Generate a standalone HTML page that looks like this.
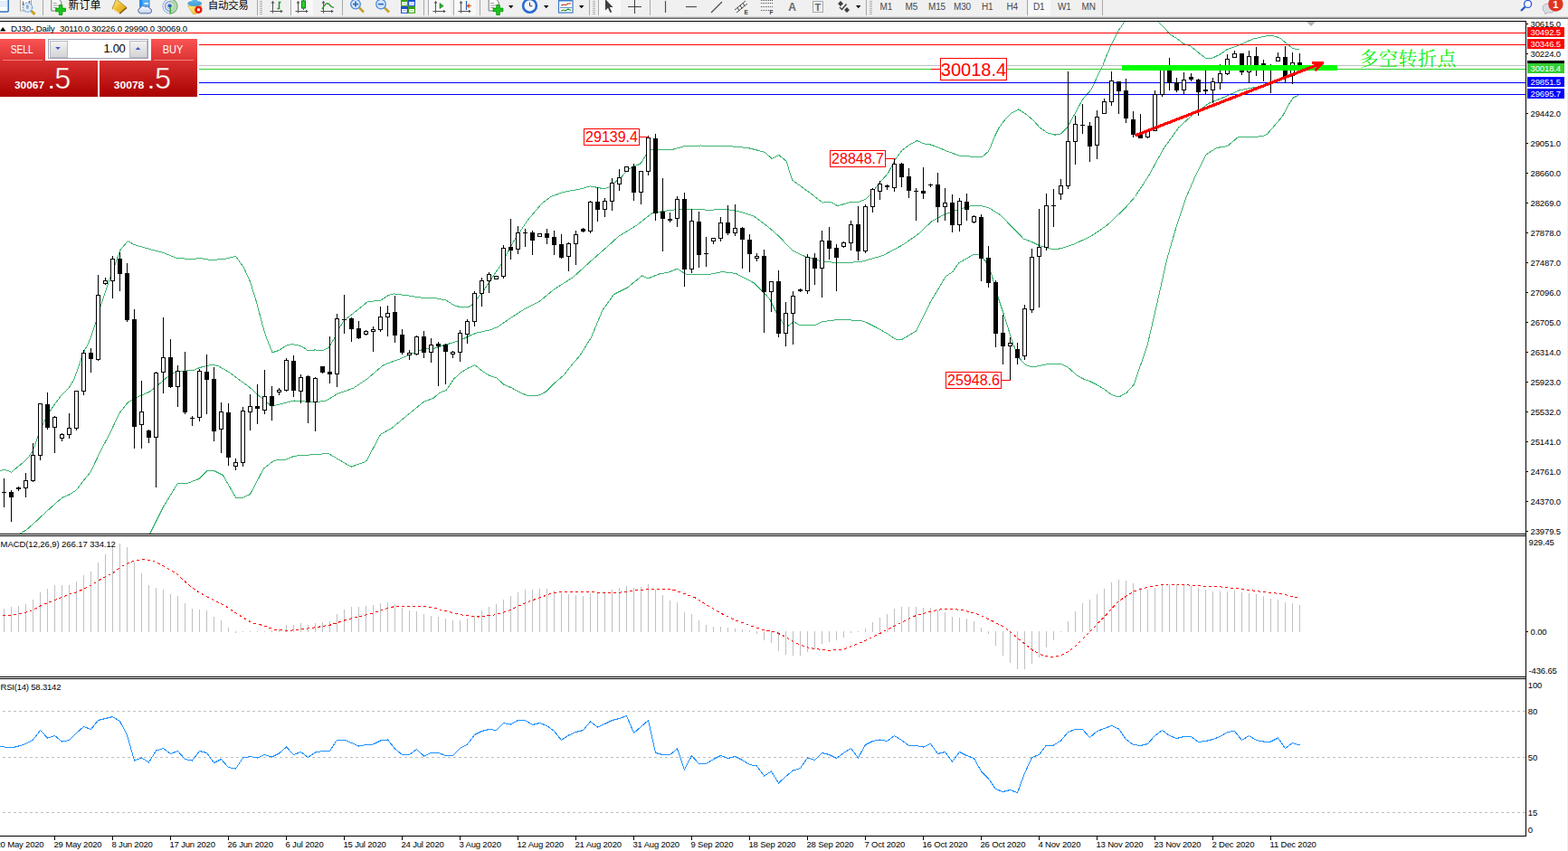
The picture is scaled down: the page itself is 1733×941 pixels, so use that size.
<!DOCTYPE html>
<html><head><meta charset="utf-8"><title>DJ30 Daily</title>
<style>html,body{margin:0;padding:0;background:#fff;overflow:hidden}svg{display:block}text{font-family:"Liberation Sans",sans-serif}</style>
</head><body>
<svg width="1733" height="941" viewBox="0 0 1733 941" font-family="Liberation Sans, sans-serif">
<defs>
<clipPath id="cmain"><rect x="0" y="24" width="1686" height="566"/></clipPath>
<linearGradient id="gbtn" x1="0" y1="0" x2="0" y2="1"><stop offset="0" stop-color="#fa5454"/><stop offset="1" stop-color="#dc3232"/></linearGradient>
<linearGradient id="gprice" gradientUnits="userSpaceOnUse" x1="0" y1="67" x2="0" y2="107"><stop offset="0" stop-color="#d83030"/><stop offset="1" stop-color="#aa0000"/></linearGradient>
<linearGradient id="gspin" x1="0" y1="0" x2="0" y2="1"><stop offset="0" stop-color="#f4f4f4"/><stop offset="1" stop-color="#d4d4d8"/></linearGradient>
<linearGradient id="ggold" x1="0" y1="0" x2="1" y2="1"><stop offset="0" stop-color="#fdf0a0"/><stop offset="0.5" stop-color="#eec030"/><stop offset="1" stop-color="#d09818"/></linearGradient>
<linearGradient id="gcloud" x1="0" y1="0" x2="0" y2="1"><stop offset="0" stop-color="#ffffff"/><stop offset="1" stop-color="#c4d0e8"/></linearGradient>
<linearGradient id="gyel" x1="0" y1="0" x2="1" y2="1"><stop offset="0" stop-color="#fff490"/><stop offset="1" stop-color="#e8b420"/></linearGradient>
</defs>
<rect x="0" y="0" width="1733" height="941" fill="#fff"/>
<g clip-path="url(#cmain)" shape-rendering="crispEdges">
<polyline points="0.5,520.5 5.5,519.2 12.5,522.2 19.6,516.2 26.0,511.1 31.1,506.0 35.6,499.6 38.8,492.0 42.6,480.5 47.7,468.5 55.3,454.5 60.5,446.8 66.8,438.5 77.0,427.7 82.1,418.8 85.3,409.8 89.8,397.1 93.6,386.9 97.4,380.5 100.5,372.5 104.5,360.5 108.5,348.5 111.5,337.5 120.5,310.5 133.0,276.5 141.2,266.5 148.0,270.5 165.5,275.5 180.5,279.5 195.5,285.5 213.0,286.5 220.5,285.5 233.0,287.5 248.0,286.5 260.5,283.5 269.2,295.5 276.5,311.5 283.0,332.5 290.5,360.5 294.2,373.0 301.1,389.8 308.7,387.3 316.4,382.2 322.7,380.7 329.1,381.5 334.2,383.5 340.6,387.9 348.3,386.9 355.9,387.9 363.5,384.1 369.9,373.3 376.3,360.5 380.5,354.0 390.5,346.5 406.5,333.5 420.5,332.5 429.2,326.5 433.5,325.1 435.6,325.0 449.6,326.6 468.8,329.7 479.0,329.2 493.0,332.0 501.9,337.7 509.6,339.9 517.2,339.9 522.3,336.4 527.4,330.1 532.5,324.3 541.0,311.5 553.5,293.0 568.5,265.5 583.5,243.0 598.5,225.5 600.5,223.7 608.9,217.5 622.2,212.5 642.3,208.8 652.4,205.8 667.5,208.8 674.1,206.5 687.5,194.9 694.2,187.5 708.5,180.5 714.3,170.5 719.3,165.5 742.7,165.5 756.1,161.8 774.5,161.0 808.0,161.8 826.5,163.5 844.8,168.1 853.2,175.5 860.7,171.5 869.1,178.2 875.5,199.0 882.3,204.0 897.4,214.9 909.1,224.1 917.5,223.2 925.8,227.7 940.9,223.2 949.2,223.2 957.5,219.9 965.7,210.5 973.0,201.1 981.3,191.8 989.5,176.2 996.9,166.3 1005.2,160.1 1013.5,155.5 1020.7,158.8 1029.1,160.1 1037.4,163.2 1045.7,166.9 1060.2,172.0 1068.5,172.0 1075.8,173.9 1085.1,173.9 1092.5,167.4 1095.5,160.5 1099.7,150.2 1103.8,141.9 1109.1,134.3 1117.5,125.3 1125.8,120.9 1135.5,127.4 1142.4,133.5 1149.3,141.2 1157.5,146.8 1165.9,149.1 1172.9,147.9 1179.8,140.5 1186.7,128.1 1196.4,110.1 1206.1,99.0 1212.0,86.3 1217.8,74.7 1223.5,60.3 1229.4,47.0 1235.1,35.5 1242.5,24.5 1250.5,14.5 1262.5,8.5 1272.5,14.5 1280.7,24.5 1288.2,32.0 1292.8,37.8 1299.7,41.9 1307.8,48.2 1315.9,51.1 1325.1,58.6 1333.2,64.9 1340.1,64.1 1348.2,60.3 1356.3,54.5 1367.8,50.7 1375.9,47.0 1385.1,43.0 1394.4,41.0 1401.3,39.5 1409.3,40.1 1415.1,42.4 1422.0,48.2 1429.0,53.7 1436.5,55.1" fill="none" stroke="#3cb371" stroke-width="1" />
<polyline points="15.5,596.5 21.5,590.2 28.6,586.4 37.5,578.7 49.0,567.9 63.0,555.1 69.4,550.0 77.0,546.8 84.7,541.7 92.3,531.5 100.0,522.0 108.9,503.5 115.3,490.7 120.4,481.3 131.9,457.0 140.8,445.5 145.9,442.4 151.6,439.2 165.0,433.4 170.1,429.5 184.2,417.5 194.4,411.1 204.5,410.1 214.8,409.2 220.5,406.5 233.0,403.5 240.5,404.2 253.0,411.5 275.5,428.0 290.5,441.5 300.5,449.2 325.5,443.0 348.0,445.0 360.5,443.0 373.0,435.5 390.5,429.2 405.5,419.2 423.0,404.2 430.5,401.1 443.3,396.4 456.0,390.7 467.5,386.2 479.0,385.5 490.5,381.7 501.9,378.5 512.1,374.7 519.8,370.9 527.4,367.9 541.5,364.9 550.4,361.3 563.2,352.4 581.0,340.9 596.3,333.3 611.6,320.5 633.5,306.5 651.0,290.5 671.0,273.0 683.5,261.5 703.5,249.2 721.0,235.5 733.5,233.5 748.5,231.5 766.0,231.5 783.5,232.2 803.5,231.5 818.5,234.2 833.5,239.2 848.5,250.5 860.5,260.9 875.5,276.8 890.5,284.0 909.1,289.0 925.8,290.7 950.9,289.7 976.0,282.5 997.5,270.9 1014.5,259.2 1029.5,245.0 1042.9,237.5 1059.5,231.5 1073.0,227.7 1084.5,227.7 1093.1,229.9 1106.5,238.3 1118.2,250.8 1131.5,264.2 1140.5,267.5 1149.2,271.8 1163.2,275.5 1172.1,274.9 1187.5,269.8 1205.3,261.5 1223.2,249.4 1243.5,230.2 1254.5,217.5 1269.5,194.4 1286.2,164.2 1302.9,140.8 1319.5,125.8 1336.5,114.0 1353.1,107.4 1369.9,99.8 1386.5,96.5 1400.5,94.5 1417.5,86.5 1429.0,81.0 1436.5,80.0" fill="none" stroke="#3cb371" stroke-width="1" />
<polyline points="160.5,600.5 165.5,590.5 180.5,560.5 196.5,534.2 205.5,535.0 220.5,529.2 229.2,520.5 236.5,520.5 246.5,525.5 260.5,550.0 269.2,550.0 276.5,546.5 291.5,518.0 303.0,509.2 316.5,508.0 325.5,504.2 363.0,501.5 388.0,516.2 404.5,510.5 420.5,480.5 433.5,473.0 448.5,460.5 468.5,444.2 479.0,440.4 485.3,434.7 493.0,431.5 496.8,426.4 501.9,418.7 509.6,411.7 517.2,407.2 524.9,403.7 532.5,409.8 540.2,414.9 549.1,418.1 556.8,425.1 565.7,428.9 574.6,434.0 582.3,437.2 589.9,437.8 596.3,436.8 604.0,432.7 614.2,422.5 623.1,414.9 632.0,403.4 641.0,393.2 653.5,373.0 666.0,343.0 678.5,325.5 693.5,318.0 709.5,305.0 716.0,308.0 728.5,303.0 738.5,301.2 748.5,297.2 758.5,303.5 783.5,303.5 798.5,300.5 813.5,302.5 833.5,313.0 846.0,325.5 850.5,330.5 858.0,345.5 866.5,359.1 870.5,360.8 877.3,355.8 884.8,359.9 900.7,359.9 908.2,355.8 924.1,353.8 937.5,353.8 950.9,354.5 957.5,356.5 967.5,361.5 981.0,369.1 989.5,375.0 996.1,375.8 1004.5,370.8 1012.8,365.8 1017.8,355.8 1027.9,334.8 1037.9,318.1 1045.5,305.5 1053.0,300.5 1059.5,291.0 1076.5,281.0 1083.1,281.0 1089.5,289.3 1095.5,302.2 1103.2,329.0 1111.5,354.1 1118.2,375.8 1124.9,394.2 1133.3,403.5 1140.5,406.0 1150.5,404.2 1160.9,402.1 1169.2,402.1 1174.4,403.1 1180.5,406.3 1190.0,414.8 1197.2,418.9 1204.5,421.5 1212.8,425.7 1221.1,430.9 1228.4,436.5 1232.5,437.8 1236.7,439.0 1245.0,434.5 1253.3,425.2 1258.5,409.5 1263.7,395.0 1268.4,380.5 1279.3,333.5 1289.5,287.5 1300.5,249.4 1311.3,217.5 1321.3,194.4 1333.1,170.9 1344.8,163.4 1356.5,161.7 1368.2,151.7 1395.0,150.9 1400.5,148.4 1417.5,128.5 1423.2,117.5 1429.0,108.2 1435.3,105.3" fill="none" stroke="#3cb371" stroke-width="1" />
<rect x="0" y="36" width="1687" height="1" fill="#ff0000" />
<rect x="0" y="49" width="1687" height="1" fill="#ff0000" />
<rect x="0" y="72" width="1687" height="1" fill="#c0c0c0" />
<rect x="0" y="76" width="1687" height="1" fill="#32cd32" />
<rect x="0" y="91" width="1687" height="1" fill="#0000ff" />
<rect x="0" y="104" width="1687" height="1" fill="#0000ff" />
<rect x="4" y="529" width="1" height="32" fill="#000" />
<rect x="2" y="544" width="5" height="1" fill="#000" />
<rect x="12" y="542" width="1" height="35" fill="#000" />
<rect x="10" y="544" width="5" height="6" fill="#000" />
<rect x="20" y="538" width="1" height="5" fill="#000" />
<rect x="18" y="539" width="5" height="2" fill="#000" />
<rect x="28" y="523" width="1" height="27" fill="#000" />
<rect x="26" y="531" width="5" height="9" fill="#000" />
<rect x="27" y="532" width="3" height="7" fill="#fff" />
<rect x="36" y="490" width="1" height="43" fill="#000" />
<rect x="34" y="503" width="5" height="29" fill="#000" />
<rect x="35" y="504" width="3" height="27" fill="#fff" />
<rect x="44" y="446" width="1" height="63" fill="#000" />
<rect x="42" y="446" width="5" height="58" fill="#000" />
<rect x="43" y="447" width="3" height="56" fill="#fff" />
<rect x="52" y="434" width="1" height="41" fill="#000" />
<rect x="50" y="447" width="5" height="26" fill="#000" />
<rect x="60" y="460" width="1" height="41" fill="#000" />
<rect x="58" y="461" width="5" height="12" fill="#000" />
<rect x="59" y="462" width="3" height="10" fill="#fff" />
<rect x="68" y="479" width="1" height="9" fill="#000" />
<rect x="66" y="480" width="5" height="5" fill="#000" />
<rect x="67" y="481" width="3" height="3" fill="#fff" />
<rect x="76" y="457" width="1" height="28" fill="#000" />
<rect x="74" y="473" width="5" height="8" fill="#000" />
<rect x="75" y="474" width="3" height="6" fill="#fff" />
<rect x="84" y="432" width="1" height="44" fill="#000" />
<rect x="82" y="432" width="5" height="42" fill="#000" />
<rect x="83" y="433" width="3" height="40" fill="#fff" />
<rect x="92" y="387" width="1" height="50" fill="#000" />
<rect x="90" y="390" width="5" height="43" fill="#000" />
<rect x="91" y="391" width="3" height="41" fill="#fff" />
<rect x="100" y="385" width="1" height="27" fill="#000" />
<rect x="98" y="390" width="5" height="7" fill="#000" />
<rect x="108" y="304" width="1" height="95" fill="#000" />
<rect x="106" y="326" width="5" height="72" fill="#000" />
<rect x="107" y="327" width="3" height="70" fill="#fff" />
<rect x="116" y="307" width="1" height="8" fill="#000" />
<rect x="114" y="310" width="5" height="4" fill="#000" />
<rect x="115" y="311" width="3" height="2" fill="#fff" />
<rect x="124" y="283" width="1" height="47" fill="#000" />
<rect x="122" y="286" width="5" height="25" fill="#000" />
<rect x="123" y="287" width="3" height="23" fill="#fff" />
<rect x="132" y="279" width="1" height="43" fill="#000" />
<rect x="130" y="286" width="5" height="17" fill="#000" />
<rect x="140" y="291" width="1" height="65" fill="#000" />
<rect x="138" y="302" width="5" height="52" fill="#000" />
<rect x="148" y="342" width="1" height="154" fill="#000" />
<rect x="146" y="353" width="5" height="119" fill="#000" />
<rect x="156" y="421" width="1" height="75" fill="#000" />
<rect x="154" y="455" width="5" height="15" fill="#000" />
<rect x="155" y="456" width="3" height="13" fill="#fff" />
<rect x="164" y="475" width="1" height="15" fill="#000" />
<rect x="162" y="476" width="5" height="8" fill="#000" />
<rect x="172" y="411" width="1" height="128" fill="#000" />
<rect x="170" y="412" width="5" height="72" fill="#000" />
<rect x="171" y="413" width="3" height="70" fill="#fff" />
<rect x="180" y="351" width="1" height="84" fill="#000" />
<rect x="178" y="395" width="5" height="17" fill="#000" />
<rect x="179" y="396" width="3" height="15" fill="#fff" />
<rect x="188" y="375" width="1" height="54" fill="#000" />
<rect x="186" y="395" width="5" height="33" fill="#000" />
<rect x="196" y="404" width="1" height="46" fill="#000" />
<rect x="194" y="410" width="5" height="18" fill="#000" />
<rect x="195" y="411" width="3" height="16" fill="#fff" />
<rect x="204" y="389" width="1" height="69" fill="#000" />
<rect x="202" y="410" width="5" height="46" fill="#000" />
<rect x="212" y="460" width="1" height="11" fill="#000" />
<rect x="210" y="462" width="5" height="1" fill="#000" />
<rect x="220" y="408" width="1" height="58" fill="#000" />
<rect x="218" y="410" width="5" height="52" fill="#000" />
<rect x="219" y="411" width="3" height="50" fill="#fff" />
<rect x="228" y="392" width="1" height="66" fill="#000" />
<rect x="226" y="411" width="5" height="9" fill="#000" />
<rect x="236" y="406" width="1" height="82" fill="#000" />
<rect x="234" y="419" width="5" height="58" fill="#000" />
<rect x="244" y="445" width="1" height="56" fill="#000" />
<rect x="242" y="455" width="5" height="20" fill="#000" />
<rect x="243" y="456" width="3" height="18" fill="#fff" />
<rect x="252" y="446" width="1" height="69" fill="#000" />
<rect x="250" y="456" width="5" height="50" fill="#000" />
<rect x="260" y="507" width="1" height="13" fill="#000" />
<rect x="258" y="511" width="5" height="5" fill="#000" />
<rect x="259" y="512" width="3" height="3" fill="#fff" />
<rect x="268" y="450" width="1" height="66" fill="#000" />
<rect x="266" y="454" width="5" height="58" fill="#000" />
<rect x="267" y="455" width="3" height="56" fill="#fff" />
<rect x="276" y="436" width="1" height="40" fill="#000" />
<rect x="274" y="449" width="5" height="7" fill="#000" />
<rect x="275" y="450" width="3" height="5" fill="#fff" />
<rect x="284" y="425" width="1" height="44" fill="#000" />
<rect x="282" y="449" width="5" height="3" fill="#000" />
<rect x="292" y="409" width="1" height="49" fill="#000" />
<rect x="290" y="438" width="5" height="16" fill="#000" />
<rect x="291" y="439" width="3" height="14" fill="#fff" />
<rect x="300" y="427" width="1" height="38" fill="#000" />
<rect x="298" y="438" width="5" height="11" fill="#000" />
<rect x="308" y="429" width="1" height="8" fill="#000" />
<rect x="306" y="431" width="5" height="3" fill="#000" />
<rect x="307" y="432" width="3" height="1" fill="#fff" />
<rect x="316" y="396" width="1" height="37" fill="#000" />
<rect x="314" y="398" width="5" height="34" fill="#000" />
<rect x="315" y="399" width="3" height="32" fill="#fff" />
<rect x="324" y="393" width="1" height="46" fill="#000" />
<rect x="322" y="399" width="5" height="33" fill="#000" />
<rect x="332" y="414" width="1" height="32" fill="#000" />
<rect x="330" y="417" width="5" height="16" fill="#000" />
<rect x="331" y="418" width="3" height="14" fill="#fff" />
<rect x="340" y="415" width="1" height="53" fill="#000" />
<rect x="338" y="416" width="5" height="29" fill="#000" />
<rect x="348" y="417" width="1" height="60" fill="#000" />
<rect x="346" y="418" width="5" height="27" fill="#000" />
<rect x="347" y="419" width="3" height="25" fill="#fff" />
<rect x="356" y="405" width="1" height="8" fill="#000" />
<rect x="354" y="405" width="5" height="7" fill="#000" />
<rect x="364" y="372" width="1" height="52" fill="#000" />
<rect x="362" y="411" width="5" height="3" fill="#000" />
<rect x="372" y="347" width="1" height="81" fill="#000" />
<rect x="370" y="352" width="5" height="62" fill="#000" />
<rect x="371" y="353" width="3" height="60" fill="#fff" />
<rect x="380" y="326" width="1" height="43" fill="#000" />
<rect x="378" y="353" width="5" height="1" fill="#000" />
<rect x="388" y="351" width="1" height="27" fill="#000" />
<rect x="386" y="352" width="5" height="12" fill="#000" />
<rect x="396" y="355" width="1" height="20" fill="#000" />
<rect x="394" y="363" width="5" height="11" fill="#000" />
<rect x="404" y="365" width="1" height="6" fill="#000" />
<rect x="402" y="366" width="5" height="4" fill="#000" />
<rect x="403" y="367" width="3" height="2" fill="#fff" />
<rect x="412" y="361" width="1" height="28" fill="#000" />
<rect x="410" y="364" width="5" height="3" fill="#000" />
<rect x="411" y="365" width="3" height="1" fill="#fff" />
<rect x="420" y="339" width="1" height="28" fill="#000" />
<rect x="418" y="350" width="5" height="15" fill="#000" />
<rect x="419" y="351" width="3" height="13" fill="#fff" />
<rect x="428" y="338" width="1" height="34" fill="#000" />
<rect x="426" y="346" width="5" height="5" fill="#000" />
<rect x="427" y="347" width="3" height="3" fill="#fff" />
<rect x="436" y="327" width="1" height="52" fill="#000" />
<rect x="434" y="345" width="5" height="26" fill="#000" />
<rect x="444" y="364" width="1" height="28" fill="#000" />
<rect x="442" y="370" width="5" height="20" fill="#000" />
<rect x="452" y="387" width="1" height="11" fill="#000" />
<rect x="450" y="390" width="5" height="3" fill="#000" />
<rect x="451" y="391" width="3" height="1" fill="#fff" />
<rect x="460" y="371" width="1" height="22" fill="#000" />
<rect x="458" y="372" width="5" height="20" fill="#000" />
<rect x="459" y="373" width="3" height="18" fill="#fff" />
<rect x="468" y="366" width="1" height="30" fill="#000" />
<rect x="466" y="372" width="5" height="18" fill="#000" />
<rect x="476" y="374" width="1" height="27" fill="#000" />
<rect x="474" y="381" width="5" height="9" fill="#000" />
<rect x="475" y="382" width="3" height="7" fill="#fff" />
<rect x="484" y="378" width="1" height="49" fill="#000" />
<rect x="482" y="380" width="5" height="3" fill="#000" />
<rect x="492" y="380" width="1" height="45" fill="#000" />
<rect x="490" y="381" width="5" height="8" fill="#000" />
<rect x="500" y="388" width="1" height="8" fill="#000" />
<rect x="498" y="389" width="5" height="3" fill="#000" />
<rect x="499" y="390" width="3" height="1" fill="#fff" />
<rect x="508" y="365" width="1" height="35" fill="#000" />
<rect x="506" y="368" width="5" height="22" fill="#000" />
<rect x="507" y="369" width="3" height="20" fill="#fff" />
<rect x="516" y="353" width="1" height="27" fill="#000" />
<rect x="514" y="355" width="5" height="15" fill="#000" />
<rect x="515" y="356" width="3" height="13" fill="#fff" />
<rect x="524" y="322" width="1" height="39" fill="#000" />
<rect x="522" y="324" width="5" height="32" fill="#000" />
<rect x="523" y="325" width="3" height="30" fill="#fff" />
<rect x="532" y="307" width="1" height="32" fill="#000" />
<rect x="530" y="310" width="5" height="15" fill="#000" />
<rect x="531" y="311" width="3" height="13" fill="#fff" />
<rect x="540" y="301" width="1" height="23" fill="#000" />
<rect x="538" y="303" width="5" height="8" fill="#000" />
<rect x="539" y="304" width="3" height="6" fill="#fff" />
<rect x="548" y="305" width="1" height="4" fill="#000" />
<rect x="546" y="305" width="5" height="4" fill="#000" />
<rect x="547" y="306" width="3" height="2" fill="#fff" />
<rect x="556" y="271" width="1" height="37" fill="#000" />
<rect x="554" y="274" width="5" height="32" fill="#000" />
<rect x="555" y="275" width="3" height="30" fill="#fff" />
<rect x="564" y="242" width="1" height="45" fill="#000" />
<rect x="562" y="273" width="5" height="4" fill="#000" />
<rect x="572" y="250" width="1" height="31" fill="#000" />
<rect x="570" y="257" width="5" height="19" fill="#000" />
<rect x="571" y="258" width="3" height="17" fill="#fff" />
<rect x="580" y="253" width="1" height="20" fill="#000" />
<rect x="578" y="257" width="5" height="1" fill="#000" />
<rect x="588" y="255" width="1" height="27" fill="#000" />
<rect x="586" y="257" width="5" height="9" fill="#000" />
<rect x="596" y="258" width="1" height="4" fill="#000" />
<rect x="594" y="258" width="5" height="4" fill="#000" />
<rect x="595" y="259" width="3" height="2" fill="#fff" />
<rect x="604" y="253" width="1" height="17" fill="#000" />
<rect x="602" y="258" width="5" height="5" fill="#000" />
<rect x="612" y="255" width="1" height="27" fill="#000" />
<rect x="610" y="262" width="5" height="9" fill="#000" />
<rect x="620" y="259" width="1" height="27" fill="#000" />
<rect x="618" y="270" width="5" height="15" fill="#000" />
<rect x="628" y="268" width="1" height="32" fill="#000" />
<rect x="626" y="269" width="5" height="15" fill="#000" />
<rect x="627" y="270" width="3" height="13" fill="#fff" />
<rect x="636" y="255" width="1" height="38" fill="#000" />
<rect x="634" y="259" width="5" height="11" fill="#000" />
<rect x="635" y="260" width="3" height="9" fill="#fff" />
<rect x="644" y="252" width="1" height="5" fill="#000" />
<rect x="642" y="253" width="5" height="3" fill="#000" />
<rect x="652" y="222" width="1" height="36" fill="#000" />
<rect x="650" y="223" width="5" height="33" fill="#000" />
<rect x="651" y="224" width="3" height="31" fill="#fff" />
<rect x="660" y="207" width="1" height="38" fill="#000" />
<rect x="658" y="223" width="5" height="9" fill="#000" />
<rect x="668" y="219" width="1" height="21" fill="#000" />
<rect x="666" y="222" width="5" height="10" fill="#000" />
<rect x="667" y="223" width="3" height="8" fill="#fff" />
<rect x="676" y="197" width="1" height="36" fill="#000" />
<rect x="674" y="202" width="5" height="21" fill="#000" />
<rect x="675" y="203" width="3" height="19" fill="#fff" />
<rect x="684" y="187" width="1" height="24" fill="#000" />
<rect x="682" y="196" width="5" height="8" fill="#000" />
<rect x="683" y="197" width="3" height="6" fill="#fff" />
<rect x="692" y="184" width="1" height="6" fill="#000" />
<rect x="690" y="184" width="5" height="6" fill="#000" />
<rect x="691" y="185" width="3" height="4" fill="#fff" />
<rect x="700" y="181" width="1" height="41" fill="#000" />
<rect x="698" y="184" width="5" height="29" fill="#000" />
<rect x="708" y="189" width="1" height="37" fill="#000" />
<rect x="706" y="189" width="5" height="24" fill="#000" />
<rect x="707" y="190" width="3" height="22" fill="#fff" />
<rect x="716" y="150" width="1" height="44" fill="#000" />
<rect x="714" y="152" width="5" height="38" fill="#000" />
<rect x="715" y="153" width="3" height="36" fill="#fff" />
<rect x="724" y="148" width="1" height="96" fill="#000" />
<rect x="722" y="153" width="5" height="83" fill="#000" />
<rect x="732" y="197" width="1" height="81" fill="#000" />
<rect x="730" y="234" width="5" height="8" fill="#000" />
<rect x="740" y="235" width="1" height="11" fill="#000" />
<rect x="738" y="242" width="5" height="2" fill="#000" />
<rect x="748" y="217" width="1" height="34" fill="#000" />
<rect x="746" y="220" width="5" height="22" fill="#000" />
<rect x="747" y="221" width="3" height="20" fill="#fff" />
<rect x="756" y="213" width="1" height="104" fill="#000" />
<rect x="754" y="220" width="5" height="78" fill="#000" />
<rect x="764" y="231" width="1" height="71" fill="#000" />
<rect x="762" y="244" width="5" height="54" fill="#000" />
<rect x="763" y="245" width="3" height="52" fill="#fff" />
<rect x="772" y="234" width="1" height="62" fill="#000" />
<rect x="770" y="245" width="5" height="37" fill="#000" />
<rect x="780" y="262" width="1" height="33" fill="#000" />
<rect x="778" y="280" width="5" height="1" fill="#000" />
<rect x="788" y="263" width="1" height="7" fill="#000" />
<rect x="786" y="263" width="5" height="4" fill="#000" />
<rect x="787" y="264" width="3" height="2" fill="#fff" />
<rect x="796" y="240" width="1" height="27" fill="#000" />
<rect x="794" y="246" width="5" height="18" fill="#000" />
<rect x="795" y="247" width="3" height="16" fill="#fff" />
<rect x="804" y="227" width="1" height="33" fill="#000" />
<rect x="802" y="246" width="5" height="12" fill="#000" />
<rect x="812" y="226" width="1" height="35" fill="#000" />
<rect x="810" y="252" width="5" height="6" fill="#000" />
<rect x="811" y="253" width="3" height="4" fill="#fff" />
<rect x="820" y="251" width="1" height="46" fill="#000" />
<rect x="818" y="252" width="5" height="13" fill="#000" />
<rect x="828" y="259" width="1" height="42" fill="#000" />
<rect x="826" y="265" width="5" height="16" fill="#000" />
<rect x="836" y="280" width="1" height="9" fill="#000" />
<rect x="834" y="283" width="5" height="3" fill="#000" />
<rect x="835" y="284" width="3" height="1" fill="#fff" />
<rect x="844" y="276" width="1" height="92" fill="#000" />
<rect x="842" y="283" width="5" height="40" fill="#000" />
<rect x="852" y="311" width="1" height="34" fill="#000" />
<rect x="850" y="311" width="5" height="12" fill="#000" />
<rect x="851" y="312" width="3" height="10" fill="#fff" />
<rect x="860" y="299" width="1" height="74" fill="#000" />
<rect x="858" y="311" width="5" height="58" fill="#000" />
<rect x="868" y="334" width="1" height="49" fill="#000" />
<rect x="866" y="346" width="5" height="23" fill="#000" />
<rect x="867" y="347" width="3" height="21" fill="#fff" />
<rect x="876" y="322" width="1" height="59" fill="#000" />
<rect x="874" y="327" width="5" height="20" fill="#000" />
<rect x="875" y="328" width="3" height="18" fill="#fff" />
<rect x="884" y="319" width="1" height="4" fill="#000" />
<rect x="882" y="320" width="5" height="2" fill="#000" />
<rect x="892" y="281" width="1" height="44" fill="#000" />
<rect x="890" y="284" width="5" height="38" fill="#000" />
<rect x="891" y="285" width="3" height="36" fill="#fff" />
<rect x="900" y="280" width="1" height="35" fill="#000" />
<rect x="898" y="285" width="5" height="12" fill="#000" />
<rect x="908" y="255" width="1" height="74" fill="#000" />
<rect x="906" y="266" width="5" height="31" fill="#000" />
<rect x="907" y="267" width="3" height="29" fill="#fff" />
<rect x="916" y="251" width="1" height="36" fill="#000" />
<rect x="914" y="266" width="5" height="9" fill="#000" />
<rect x="924" y="270" width="1" height="52" fill="#000" />
<rect x="922" y="274" width="5" height="11" fill="#000" />
<rect x="932" y="267" width="1" height="7" fill="#000" />
<rect x="930" y="268" width="5" height="5" fill="#000" />
<rect x="931" y="269" width="3" height="3" fill="#fff" />
<rect x="940" y="244" width="1" height="33" fill="#000" />
<rect x="938" y="248" width="5" height="21" fill="#000" />
<rect x="939" y="249" width="3" height="19" fill="#fff" />
<rect x="948" y="228" width="1" height="60" fill="#000" />
<rect x="946" y="248" width="5" height="30" fill="#000" />
<rect x="956" y="226" width="1" height="54" fill="#000" />
<rect x="954" y="228" width="5" height="50" fill="#000" />
<rect x="955" y="229" width="3" height="48" fill="#fff" />
<rect x="964" y="208" width="1" height="27" fill="#000" />
<rect x="962" y="209" width="5" height="20" fill="#000" />
<rect x="963" y="210" width="3" height="18" fill="#fff" />
<rect x="972" y="200" width="1" height="21" fill="#000" />
<rect x="970" y="203" width="5" height="9" fill="#000" />
<rect x="971" y="204" width="3" height="7" fill="#fff" />
<rect x="980" y="204" width="1" height="6" fill="#000" />
<rect x="978" y="205" width="5" height="2" fill="#000" />
<rect x="988" y="175" width="1" height="37" fill="#000" />
<rect x="986" y="181" width="5" height="27" fill="#000" />
<rect x="987" y="182" width="3" height="25" fill="#fff" />
<rect x="996" y="180" width="1" height="27" fill="#000" />
<rect x="994" y="181" width="5" height="15" fill="#000" />
<rect x="1004" y="186" width="1" height="33" fill="#000" />
<rect x="1002" y="195" width="5" height="16" fill="#000" />
<rect x="1012" y="208" width="1" height="36" fill="#000" />
<rect x="1010" y="211" width="5" height="1" fill="#000" />
<rect x="1020" y="185" width="1" height="35" fill="#000" />
<rect x="1018" y="211" width="5" height="3" fill="#000" />
<rect x="1028" y="203" width="1" height="4" fill="#000" />
<rect x="1026" y="204" width="5" height="1" fill="#000" />
<rect x="1036" y="191" width="1" height="55" fill="#000" />
<rect x="1034" y="204" width="5" height="25" fill="#000" />
<rect x="1044" y="208" width="1" height="36" fill="#000" />
<rect x="1042" y="224" width="5" height="5" fill="#000" />
<rect x="1043" y="225" width="3" height="3" fill="#fff" />
<rect x="1052" y="215" width="1" height="42" fill="#000" />
<rect x="1050" y="224" width="5" height="25" fill="#000" />
<rect x="1060" y="219" width="1" height="37" fill="#000" />
<rect x="1058" y="222" width="5" height="27" fill="#000" />
<rect x="1059" y="223" width="3" height="25" fill="#fff" />
<rect x="1068" y="214" width="1" height="30" fill="#000" />
<rect x="1066" y="223" width="5" height="9" fill="#000" />
<rect x="1076" y="238" width="1" height="9" fill="#000" />
<rect x="1074" y="239" width="5" height="7" fill="#000" />
<rect x="1075" y="240" width="3" height="5" fill="#fff" />
<rect x="1084" y="237" width="1" height="74" fill="#000" />
<rect x="1082" y="240" width="5" height="46" fill="#000" />
<rect x="1092" y="272" width="1" height="46" fill="#000" />
<rect x="1090" y="285" width="5" height="28" fill="#000" />
<rect x="1100" y="310" width="1" height="74" fill="#000" />
<rect x="1098" y="312" width="5" height="57" fill="#000" />
<rect x="1108" y="348" width="1" height="55" fill="#000" />
<rect x="1106" y="368" width="5" height="15" fill="#000" />
<rect x="1116" y="373" width="1" height="47" fill="#000" />
<rect x="1114" y="379" width="5" height="4" fill="#000" />
<rect x="1115" y="380" width="3" height="2" fill="#fff" />
<rect x="1124" y="379" width="1" height="24" fill="#000" />
<rect x="1122" y="386" width="5" height="10" fill="#000" />
<rect x="1132" y="337" width="1" height="61" fill="#000" />
<rect x="1130" y="341" width="5" height="53" fill="#000" />
<rect x="1131" y="342" width="3" height="51" fill="#fff" />
<rect x="1140" y="275" width="1" height="71" fill="#000" />
<rect x="1138" y="284" width="5" height="59" fill="#000" />
<rect x="1139" y="285" width="3" height="57" fill="#fff" />
<rect x="1148" y="231" width="1" height="109" fill="#000" />
<rect x="1146" y="273" width="5" height="11" fill="#000" />
<rect x="1147" y="274" width="3" height="9" fill="#fff" />
<rect x="1156" y="214" width="1" height="63" fill="#000" />
<rect x="1154" y="227" width="5" height="47" fill="#000" />
<rect x="1155" y="228" width="3" height="45" fill="#fff" />
<rect x="1164" y="209" width="1" height="42" fill="#000" />
<rect x="1162" y="227" width="5" height="1" fill="#000" />
<rect x="1172" y="198" width="1" height="23" fill="#000" />
<rect x="1170" y="205" width="5" height="10" fill="#000" />
<rect x="1171" y="206" width="3" height="8" fill="#fff" />
<rect x="1180" y="79" width="1" height="130" fill="#000" />
<rect x="1178" y="156" width="5" height="50" fill="#000" />
<rect x="1179" y="157" width="3" height="48" fill="#fff" />
<rect x="1188" y="128" width="1" height="54" fill="#000" />
<rect x="1186" y="137" width="5" height="20" fill="#000" />
<rect x="1187" y="138" width="3" height="18" fill="#fff" />
<rect x="1196" y="115" width="1" height="33" fill="#000" />
<rect x="1194" y="138" width="5" height="1" fill="#000" />
<rect x="1204" y="135" width="1" height="44" fill="#000" />
<rect x="1202" y="139" width="5" height="23" fill="#000" />
<rect x="1212" y="122" width="1" height="54" fill="#000" />
<rect x="1210" y="129" width="5" height="32" fill="#000" />
<rect x="1211" y="130" width="3" height="30" fill="#fff" />
<rect x="1220" y="109" width="1" height="17" fill="#000" />
<rect x="1218" y="112" width="5" height="14" fill="#000" />
<rect x="1219" y="113" width="3" height="12" fill="#fff" />
<rect x="1228" y="79" width="1" height="38" fill="#000" />
<rect x="1226" y="89" width="5" height="24" fill="#000" />
<rect x="1227" y="90" width="3" height="22" fill="#fff" />
<rect x="1236" y="90" width="1" height="36" fill="#000" />
<rect x="1234" y="90" width="5" height="11" fill="#000" />
<rect x="1244" y="87" width="1" height="49" fill="#000" />
<rect x="1242" y="100" width="5" height="31" fill="#000" />
<rect x="1252" y="123" width="1" height="29" fill="#000" />
<rect x="1250" y="132" width="5" height="17" fill="#000" />
<rect x="1260" y="126" width="1" height="27" fill="#000" />
<rect x="1258" y="149" width="5" height="4" fill="#000" />
<rect x="1268" y="143" width="1" height="10" fill="#000" />
<rect x="1266" y="145" width="5" height="7" fill="#000" />
<rect x="1267" y="146" width="3" height="5" fill="#fff" />
<rect x="1276" y="100" width="1" height="45" fill="#000" />
<rect x="1274" y="104" width="5" height="41" fill="#000" />
<rect x="1275" y="105" width="3" height="39" fill="#fff" />
<rect x="1284" y="73" width="1" height="34" fill="#000" />
<rect x="1282" y="75" width="5" height="30" fill="#000" />
<rect x="1283" y="76" width="3" height="28" fill="#fff" />
<rect x="1292" y="64" width="1" height="36" fill="#000" />
<rect x="1290" y="75" width="5" height="17" fill="#000" />
<rect x="1300" y="86" width="1" height="16" fill="#000" />
<rect x="1298" y="91" width="5" height="9" fill="#000" />
<rect x="1308" y="80" width="1" height="24" fill="#000" />
<rect x="1306" y="88" width="5" height="12" fill="#000" />
<rect x="1307" y="89" width="3" height="10" fill="#fff" />
<rect x="1316" y="81" width="1" height="9" fill="#000" />
<rect x="1314" y="85" width="5" height="3" fill="#000" />
<rect x="1324" y="87" width="1" height="41" fill="#000" />
<rect x="1322" y="88" width="5" height="14" fill="#000" />
<rect x="1332" y="78" width="1" height="26" fill="#000" />
<rect x="1330" y="99" width="5" height="2" fill="#000" />
<rect x="1340" y="86" width="1" height="28" fill="#000" />
<rect x="1338" y="90" width="5" height="10" fill="#000" />
<rect x="1339" y="91" width="3" height="8" fill="#fff" />
<rect x="1348" y="71" width="1" height="28" fill="#000" />
<rect x="1346" y="81" width="5" height="11" fill="#000" />
<rect x="1347" y="82" width="3" height="9" fill="#fff" />
<rect x="1356" y="60" width="1" height="23" fill="#000" />
<rect x="1354" y="65" width="5" height="17" fill="#000" />
<rect x="1355" y="66" width="3" height="15" fill="#fff" />
<rect x="1364" y="56" width="1" height="8" fill="#000" />
<rect x="1362" y="59" width="5" height="5" fill="#000" />
<rect x="1363" y="60" width="3" height="3" fill="#fff" />
<rect x="1372" y="59" width="1" height="24" fill="#000" />
<rect x="1370" y="59" width="5" height="21" fill="#000" />
<rect x="1380" y="56" width="1" height="36" fill="#000" />
<rect x="1378" y="62" width="5" height="18" fill="#000" />
<rect x="1379" y="63" width="3" height="16" fill="#fff" />
<rect x="1388" y="52" width="1" height="32" fill="#000" />
<rect x="1386" y="62" width="5" height="12" fill="#000" />
<rect x="1396" y="66" width="1" height="24" fill="#000" />
<rect x="1394" y="70" width="5" height="3" fill="#000" />
<rect x="1404" y="71" width="1" height="32" fill="#000" />
<rect x="1402" y="75" width="5" height="1" fill="#000" />
<rect x="1412" y="58" width="1" height="10" fill="#000" />
<rect x="1410" y="63" width="5" height="5" fill="#000" />
<rect x="1411" y="64" width="3" height="3" fill="#fff" />
<rect x="1420" y="51" width="1" height="41" fill="#000" />
<rect x="1418" y="63" width="5" height="22" fill="#000" />
<rect x="1428" y="58" width="1" height="35" fill="#000" />
<rect x="1426" y="69" width="5" height="15" fill="#000" />
<rect x="1427" y="70" width="3" height="13" fill="#fff" />
<rect x="1436" y="59" width="1" height="19" fill="#000" />
<rect x="1434" y="69" width="5" height="4" fill="#000" />
<rect x="1240" y="72" width="238" height="6" fill="#00ff00" />
</g>
<g clip-path="url(#cmain)">
<g shape-rendering="crispEdges" stroke="#ff0000" stroke-width="3.2" fill="none">
<line x1="1254.5" y1="150.0" x2="1462" y2="69.4"/>
<line x1="1463" y1="69.5" x2="1450" y2="69.5"/>
<line x1="1462.5" y1="69" x2="1453.5" y2="78"/>
</g>
</g>
<polygon points="1444,24 1454,24 1449,29" fill="#b4b4b4"/>
<rect x="645.5" y="142.5" width="61" height="18" fill="#fff" stroke="#ff0000" stroke-width="1" shape-rendering="crispEdges"/>
<text x="676.0" y="157.26" font-size="16" fill="#ff0000" text-anchor="middle" letter-spacing="0">29139.4</text>
<rect x="707" y="151" width="10" height="1" fill="#ff0000" />
<rect x="917.5" y="166.5" width="61" height="18" fill="#fff" stroke="#ff0000" stroke-width="1" shape-rendering="crispEdges"/>
<text x="948.0" y="181.26" font-size="16" fill="#ff0000" text-anchor="middle" letter-spacing="0">28848.7</text>
<rect x="979" y="175" width="10" height="1" fill="#ff0000" />
<rect x="1045.5" y="411.5" width="61" height="18" fill="#fff" stroke="#ff0000" stroke-width="1" shape-rendering="crispEdges"/>
<text x="1076.0" y="426.26" font-size="16" fill="#ff0000" text-anchor="middle" letter-spacing="0">25948.6</text>
<rect x="1107" y="420" width="10" height="1" fill="#ff0000" />
<rect x="1039.5" y="64.5" width="73" height="24" fill="#fff" stroke="#ff0000" stroke-width="1" shape-rendering="crispEdges"/>
<text x="1076.0" y="83.7" font-size="20" fill="#ff0000" text-anchor="middle" letter-spacing="0">30018.4</text>
<rect x="1029" y="76" width="10" height="1" fill="#ff0000" />
<g shape-rendering="crispEdges">
<rect x="4" y="673" width="1" height="26" fill="#c0c0c0" />
<rect x="12" y="671" width="1" height="28" fill="#c0c0c0" />
<rect x="20" y="670" width="1" height="29" fill="#c0c0c0" />
<rect x="28" y="668" width="1" height="31" fill="#c0c0c0" />
<rect x="36" y="663" width="1" height="36" fill="#c0c0c0" />
<rect x="44" y="655" width="1" height="44" fill="#c0c0c0" />
<rect x="52" y="651" width="1" height="48" fill="#c0c0c0" />
<rect x="60" y="647" width="1" height="52" fill="#c0c0c0" />
<rect x="68" y="647" width="1" height="52" fill="#c0c0c0" />
<rect x="76" y="647" width="1" height="52" fill="#c0c0c0" />
<rect x="84" y="643" width="1" height="56" fill="#c0c0c0" />
<rect x="92" y="636" width="1" height="63" fill="#c0c0c0" />
<rect x="100" y="632" width="1" height="67" fill="#c0c0c0" />
<rect x="108" y="622" width="1" height="77" fill="#c0c0c0" />
<rect x="116" y="613" width="1" height="86" fill="#c0c0c0" />
<rect x="124" y="604" width="1" height="95" fill="#c0c0c0" />
<rect x="132" y="601" width="1" height="98" fill="#c0c0c0" />
<rect x="140" y="605" width="1" height="94" fill="#c0c0c0" />
<rect x="148" y="622" width="1" height="77" fill="#c0c0c0" />
<rect x="156" y="634" width="1" height="65" fill="#c0c0c0" />
<rect x="164" y="647" width="1" height="52" fill="#c0c0c0" />
<rect x="172" y="650" width="1" height="49" fill="#c0c0c0" />
<rect x="180" y="652" width="1" height="47" fill="#c0c0c0" />
<rect x="188" y="657" width="1" height="42" fill="#c0c0c0" />
<rect x="196" y="659" width="1" height="40" fill="#c0c0c0" />
<rect x="204" y="667" width="1" height="32" fill="#c0c0c0" />
<rect x="212" y="673" width="1" height="26" fill="#c0c0c0" />
<rect x="220" y="674" width="1" height="25" fill="#c0c0c0" />
<rect x="228" y="675" width="1" height="24" fill="#c0c0c0" />
<rect x="236" y="682" width="1" height="17" fill="#c0c0c0" />
<rect x="244" y="686" width="1" height="13" fill="#c0c0c0" />
<rect x="252" y="694" width="1" height="5" fill="#c0c0c0" />
<rect x="260" y="698" width="1" height="2" fill="#c0c0c0" />
<rect x="268" y="698" width="1" height="1" fill="#c0c0c0" />
<rect x="276" y="698" width="1" height="1" fill="#c0c0c0" />
<rect x="284" y="698" width="1" height="1" fill="#c0c0c0" />
<rect x="292" y="698" width="1" height="1" fill="#c0c0c0" />
<rect x="300" y="697" width="1" height="2" fill="#c0c0c0" />
<rect x="308" y="696" width="1" height="3" fill="#c0c0c0" />
<rect x="316" y="691" width="1" height="8" fill="#c0c0c0" />
<rect x="324" y="691" width="1" height="8" fill="#c0c0c0" />
<rect x="332" y="689" width="1" height="10" fill="#c0c0c0" />
<rect x="340" y="691" width="1" height="8" fill="#c0c0c0" />
<rect x="348" y="689" width="1" height="10" fill="#c0c0c0" />
<rect x="356" y="688" width="1" height="11" fill="#c0c0c0" />
<rect x="364" y="687" width="1" height="12" fill="#c0c0c0" />
<rect x="372" y="679" width="1" height="20" fill="#c0c0c0" />
<rect x="380" y="674" width="1" height="25" fill="#c0c0c0" />
<rect x="388" y="671" width="1" height="28" fill="#c0c0c0" />
<rect x="396" y="671" width="1" height="28" fill="#c0c0c0" />
<rect x="404" y="670" width="1" height="29" fill="#c0c0c0" />
<rect x="412" y="669" width="1" height="30" fill="#c0c0c0" />
<rect x="420" y="667" width="1" height="32" fill="#c0c0c0" />
<rect x="428" y="666" width="1" height="33" fill="#c0c0c0" />
<rect x="436" y="668" width="1" height="31" fill="#c0c0c0" />
<rect x="444" y="672" width="1" height="27" fill="#c0c0c0" />
<rect x="452" y="675" width="1" height="24" fill="#c0c0c0" />
<rect x="460" y="676" width="1" height="23" fill="#c0c0c0" />
<rect x="468" y="679" width="1" height="20" fill="#c0c0c0" />
<rect x="476" y="681" width="1" height="18" fill="#c0c0c0" />
<rect x="484" y="682" width="1" height="17" fill="#c0c0c0" />
<rect x="492" y="684" width="1" height="15" fill="#c0c0c0" />
<rect x="500" y="686" width="1" height="13" fill="#c0c0c0" />
<rect x="508" y="686" width="1" height="13" fill="#c0c0c0" />
<rect x="516" y="684" width="1" height="15" fill="#c0c0c0" />
<rect x="524" y="681" width="1" height="18" fill="#c0c0c0" />
<rect x="532" y="675" width="1" height="24" fill="#c0c0c0" />
<rect x="540" y="671" width="1" height="28" fill="#c0c0c0" />
<rect x="548" y="668" width="1" height="31" fill="#c0c0c0" />
<rect x="556" y="663" width="1" height="36" fill="#c0c0c0" />
<rect x="564" y="659" width="1" height="40" fill="#c0c0c0" />
<rect x="572" y="655" width="1" height="44" fill="#c0c0c0" />
<rect x="580" y="652" width="1" height="47" fill="#c0c0c0" />
<rect x="588" y="652" width="1" height="47" fill="#c0c0c0" />
<rect x="596" y="651" width="1" height="48" fill="#c0c0c0" />
<rect x="604" y="651" width="1" height="48" fill="#c0c0c0" />
<rect x="612" y="653" width="1" height="46" fill="#c0c0c0" />
<rect x="620" y="656" width="1" height="43" fill="#c0c0c0" />
<rect x="628" y="657" width="1" height="42" fill="#c0c0c0" />
<rect x="636" y="658" width="1" height="41" fill="#c0c0c0" />
<rect x="644" y="659" width="1" height="40" fill="#c0c0c0" />
<rect x="652" y="656" width="1" height="43" fill="#c0c0c0" />
<rect x="660" y="655" width="1" height="44" fill="#c0c0c0" />
<rect x="668" y="654" width="1" height="45" fill="#c0c0c0" />
<rect x="676" y="652" width="1" height="47" fill="#c0c0c0" />
<rect x="684" y="650" width="1" height="49" fill="#c0c0c0" />
<rect x="692" y="648" width="1" height="51" fill="#c0c0c0" />
<rect x="700" y="650" width="1" height="49" fill="#c0c0c0" />
<rect x="708" y="649" width="1" height="50" fill="#c0c0c0" />
<rect x="716" y="646" width="1" height="53" fill="#c0c0c0" />
<rect x="724" y="652" width="1" height="47" fill="#c0c0c0" />
<rect x="732" y="658" width="1" height="41" fill="#c0c0c0" />
<rect x="740" y="664" width="1" height="35" fill="#c0c0c0" />
<rect x="748" y="666" width="1" height="33" fill="#c0c0c0" />
<rect x="756" y="677" width="1" height="22" fill="#c0c0c0" />
<rect x="764" y="679" width="1" height="20" fill="#c0c0c0" />
<rect x="772" y="686" width="1" height="13" fill="#c0c0c0" />
<rect x="780" y="691" width="1" height="8" fill="#c0c0c0" />
<rect x="788" y="693" width="1" height="6" fill="#c0c0c0" />
<rect x="796" y="693" width="1" height="6" fill="#c0c0c0" />
<rect x="804" y="694" width="1" height="5" fill="#c0c0c0" />
<rect x="812" y="695" width="1" height="4" fill="#c0c0c0" />
<rect x="820" y="696" width="1" height="3" fill="#c0c0c0" />
<rect x="828" y="697" width="1" height="2" fill="#c0c0c0" />
<rect x="836" y="698" width="1" height="3" fill="#c0c0c0" />
<rect x="844" y="698" width="1" height="10" fill="#c0c0c0" />
<rect x="852" y="698" width="1" height="13" fill="#c0c0c0" />
<rect x="860" y="698" width="1" height="22" fill="#c0c0c0" />
<rect x="868" y="698" width="1" height="26" fill="#c0c0c0" />
<rect x="876" y="698" width="1" height="27" fill="#c0c0c0" />
<rect x="884" y="698" width="1" height="27" fill="#c0c0c0" />
<rect x="892" y="698" width="1" height="23" fill="#c0c0c0" />
<rect x="900" y="698" width="1" height="20" fill="#c0c0c0" />
<rect x="908" y="698" width="1" height="14" fill="#c0c0c0" />
<rect x="916" y="698" width="1" height="12" fill="#c0c0c0" />
<rect x="924" y="698" width="1" height="10" fill="#c0c0c0" />
<rect x="932" y="698" width="1" height="7" fill="#c0c0c0" />
<rect x="940" y="698" width="1" height="2" fill="#c0c0c0" />
<rect x="948" y="698" width="1" height="1" fill="#c0c0c0" />
<rect x="956" y="695" width="1" height="4" fill="#c0c0c0" />
<rect x="964" y="688" width="1" height="11" fill="#c0c0c0" />
<rect x="972" y="683" width="1" height="16" fill="#c0c0c0" />
<rect x="980" y="679" width="1" height="20" fill="#c0c0c0" />
<rect x="988" y="673" width="1" height="26" fill="#c0c0c0" />
<rect x="996" y="671" width="1" height="28" fill="#c0c0c0" />
<rect x="1004" y="671" width="1" height="28" fill="#c0c0c0" />
<rect x="1012" y="671" width="1" height="28" fill="#c0c0c0" />
<rect x="1020" y="672" width="1" height="27" fill="#c0c0c0" />
<rect x="1028" y="672" width="1" height="27" fill="#c0c0c0" />
<rect x="1036" y="675" width="1" height="24" fill="#c0c0c0" />
<rect x="1044" y="677" width="1" height="22" fill="#c0c0c0" />
<rect x="1052" y="682" width="1" height="17" fill="#c0c0c0" />
<rect x="1060" y="683" width="1" height="16" fill="#c0c0c0" />
<rect x="1068" y="684" width="1" height="15" fill="#c0c0c0" />
<rect x="1076" y="687" width="1" height="12" fill="#c0c0c0" />
<rect x="1084" y="694" width="1" height="5" fill="#c0c0c0" />
<rect x="1092" y="698" width="1" height="3" fill="#c0c0c0" />
<rect x="1100" y="698" width="1" height="16" fill="#c0c0c0" />
<rect x="1108" y="698" width="1" height="27" fill="#c0c0c0" />
<rect x="1116" y="698" width="1" height="35" fill="#c0c0c0" />
<rect x="1124" y="698" width="1" height="42" fill="#c0c0c0" />
<rect x="1132" y="698" width="1" height="42" fill="#c0c0c0" />
<rect x="1140" y="698" width="1" height="36" fill="#c0c0c0" />
<rect x="1148" y="698" width="1" height="29" fill="#c0c0c0" />
<rect x="1156" y="698" width="1" height="18" fill="#c0c0c0" />
<rect x="1164" y="698" width="1" height="10" fill="#c0c0c0" />
<rect x="1172" y="698" width="1" height="1" fill="#c0c0c0" />
<rect x="1180" y="687" width="1" height="12" fill="#c0c0c0" />
<rect x="1188" y="676" width="1" height="23" fill="#c0c0c0" />
<rect x="1196" y="667" width="1" height="32" fill="#c0c0c0" />
<rect x="1204" y="663" width="1" height="36" fill="#c0c0c0" />
<rect x="1212" y="657" width="1" height="42" fill="#c0c0c0" />
<rect x="1220" y="651" width="1" height="48" fill="#c0c0c0" />
<rect x="1228" y="644" width="1" height="55" fill="#c0c0c0" />
<rect x="1236" y="641" width="1" height="58" fill="#c0c0c0" />
<rect x="1244" y="642" width="1" height="57" fill="#c0c0c0" />
<rect x="1252" y="645" width="1" height="54" fill="#c0c0c0" />
<rect x="1260" y="650" width="1" height="49" fill="#c0c0c0" />
<rect x="1268" y="652" width="1" height="47" fill="#c0c0c0" />
<rect x="1276" y="650" width="1" height="49" fill="#c0c0c0" />
<rect x="1284" y="647" width="1" height="52" fill="#c0c0c0" />
<rect x="1292" y="646" width="1" height="53" fill="#c0c0c0" />
<rect x="1300" y="646" width="1" height="53" fill="#c0c0c0" />
<rect x="1308" y="647" width="1" height="52" fill="#c0c0c0" />
<rect x="1316" y="648" width="1" height="51" fill="#c0c0c0" />
<rect x="1324" y="650" width="1" height="49" fill="#c0c0c0" />
<rect x="1332" y="652" width="1" height="47" fill="#c0c0c0" />
<rect x="1340" y="654" width="1" height="45" fill="#c0c0c0" />
<rect x="1348" y="654" width="1" height="45" fill="#c0c0c0" />
<rect x="1356" y="654" width="1" height="45" fill="#c0c0c0" />
<rect x="1364" y="653" width="1" height="46" fill="#c0c0c0" />
<rect x="1372" y="655" width="1" height="44" fill="#c0c0c0" />
<rect x="1380" y="656" width="1" height="43" fill="#c0c0c0" />
<rect x="1388" y="657" width="1" height="42" fill="#c0c0c0" />
<rect x="1396" y="659" width="1" height="40" fill="#c0c0c0" />
<rect x="1404" y="662" width="1" height="37" fill="#c0c0c0" />
<rect x="1412" y="663" width="1" height="36" fill="#c0c0c0" />
<rect x="1420" y="666" width="1" height="33" fill="#c0c0c0" />
<rect x="1428" y="667" width="1" height="32" fill="#c0c0c0" />
<rect x="1436" y="669" width="1" height="30" fill="#c0c0c0" />
<polyline points="3.0,681.0 15.5,680.0 33.0,676.0 45.5,669.5 60.5,663.5 75.5,657.5 85.5,654.5 100.5,647.2 113.0,639.5 125.5,633.0 135.5,625.5 148.0,620.0 158.0,618.5 168.0,619.5 180.5,625.5 195.5,634.5 208.0,646.5 220.5,655.5 238.0,664.5 250.5,671.0 263.0,679.5 278.0,688.5 290.5,691.5 303.0,696.0 318.0,697.5 333.0,696.0 350.5,693.5 365.5,691.0 380.5,686.0 395.5,682.2 410.5,678.5 423.0,674.2 434.5,671.0 448.5,670.0 463.5,670.0 478.5,672.0 496.0,676.5 513.5,680.5 528.5,682.0 546.0,680.0 561.0,676.0 578.5,667.5 596.0,661.0 608.5,656.5 618.5,655.0 633.5,654.0 646.0,654.0 658.5,655.0 673.5,655.5 686.0,655.0 696.0,653.5 708.5,652.5 721.0,651.0 736.0,651.0 744.5,652.2 756.0,656.5 768.5,661.0 783.5,670.5 798.5,679.0 813.5,686.0 828.5,691.5 843.5,696.5 858.5,699.5 866.5,703.5 879.0,711.0 894.0,716.5 916.5,719.5 934.0,717.5 951.5,710.5 971.5,701.0 991.5,690.5 1011.5,681.0 1029.0,676.0 1041.5,673.5 1054.0,673.5 1066.5,675.2 1081.5,679.5 1096.5,686.5 1111.5,694.5 1126.5,707.2 1141.5,719.0 1154.0,725.5 1164.0,726.5 1176.5,723.5 1189.0,714.0 1204.0,699.0 1221.5,681.0 1236.5,664.5 1254.0,653.5 1271.5,648.5 1291.5,646.0 1300.5,646.0 1324.5,647.8 1349.5,649.0 1369.5,651.0 1392.2,654.0 1417.2,656.8 1436.0,661.5" fill="none" stroke="#ff0000" stroke-width="1" stroke-dasharray="3 3"/>
</g>
<g shape-rendering="crispEdges">
<line x1="3" y1="786.5" x2="1686" y2="786.5" stroke="#c0c0c0" stroke-width="1" stroke-dasharray="3 3"/>
<line x1="3" y1="837.5" x2="1686" y2="837.5" stroke="#c0c0c0" stroke-width="1" stroke-dasharray="3 3"/>
<line x1="3" y1="898.5" x2="1686" y2="898.5" stroke="#c0c0c0" stroke-width="1" stroke-dasharray="3 3"/>
<polyline points="-3.5,825.5 4.5,826.0 12.5,827.0 20.5,825.0 28.5,822.5 36.5,818.0 44.5,807.5 52.5,816.0 60.5,813.5 68.5,820.0 76.5,818.5 84.5,810.5 92.5,803.5 100.5,806.5 108.5,796.5 116.5,794.5 124.5,792.5 132.5,797.5 140.5,813.0 148.5,841.0 156.5,838.0 164.5,843.0 172.5,830.0 180.5,827.5 188.5,833.5 196.5,830.5 204.5,839.5 212.5,841.0 220.5,830.5 228.5,832.5 236.5,843.5 244.5,839.5 252.5,848.5 260.5,850.0 268.5,838.0 276.5,836.5 284.5,838.0 292.5,834.5 300.5,837.0 308.5,833.0 316.5,826.0 324.5,834.5 332.5,831.5 340.5,837.5 348.5,832.0 356.5,830.5 364.5,830.5 372.5,818.0 380.5,818.0 388.5,821.5 396.5,825.0 404.5,823.5 412.5,823.0 420.5,819.0 428.5,818.0 436.5,828.0 444.5,834.5 452.5,834.5 460.5,828.5 468.5,836.0 476.5,832.5 484.5,832.5 492.5,835.5 500.5,835.5 508.5,827.5 516.5,823.0 524.5,812.5 532.5,808.5 540.5,806.5 548.5,807.5 556.5,799.5 564.5,801.0 572.5,796.5 580.5,796.5 588.5,801.5 596.5,799.5 604.5,802.5 612.5,808.5 620.5,818.5 628.5,813.0 636.5,809.5 644.5,807.5 652.5,798.0 660.5,804.0 668.5,800.5 676.5,796.5 684.5,794.5 692.5,791.5 700.5,810.5 708.5,803.5 716.5,796.5 724.5,832.5 732.5,834.5 740.5,834.5 748.5,828.0 756.5,851.0 764.5,835.5 772.5,844.5 780.5,844.5 788.5,839.5 796.5,835.5 804.5,838.5 812.5,836.5 820.5,840.5 828.5,845.5 836.5,847.0 844.5,858.0 852.5,853.0 860.5,866.0 868.5,858.5 876.5,852.0 884.5,849.5 892.5,838.0 900.5,840.5 908.5,832.5 916.5,834.5 924.5,838.5 932.5,832.5 940.5,827.5 948.5,838.0 956.5,823.5 964.5,819.5 972.5,818.0 980.5,819.5 988.5,813.5 996.5,818.5 1004.5,824.5 1012.5,824.5 1020.5,826.0 1028.5,822.5 1036.5,833.5 1044.5,831.5 1052.5,842.0 1060.5,831.5 1068.5,835.5 1076.5,838.5 1084.5,853.0 1092.5,861.0 1100.5,872.5 1108.5,875.5 1116.5,873.5 1124.5,876.5 1132.5,855.0 1140.5,837.5 1148.5,834.5 1156.5,824.0 1164.5,824.0 1172.5,819.0 1180.5,809.5 1188.5,806.5 1196.5,806.5 1204.5,815.5 1212.5,808.5 1220.5,805.5 1228.5,802.5 1236.5,806.0 1244.5,817.5 1252.5,823.5 1260.5,824.5 1268.5,822.5 1276.5,813.5 1284.5,807.5 1292.5,813.5 1300.5,816.5 1308.5,814.5 1316.5,814.5 1324.5,820.5 1332.5,819.5 1340.5,817.5 1348.5,814.5 1356.5,809.5 1364.5,808.5 1372.5,818.5 1380.5,813.5 1388.5,818.5 1396.5,820.0 1404.5,820.0 1412.5,816.0 1420.5,827.5 1428.5,821.5 1436.5,824.0" fill="none" stroke="#1e90ff" stroke-width="1" />
</g>
<g shape-rendering="crispEdges">
<rect x="0" y="23" width="1687" height="1" fill="#000" />
<rect x="1686" y="23" width="1" height="902" fill="#000" />
<rect x="0" y="590" width="1687" height="1" fill="#000" />
<rect x="0" y="592" width="1687" height="1" fill="#000" />
<rect x="0" y="748" width="1687" height="1" fill="#000" />
<rect x="0" y="750" width="1687" height="1" fill="#000" />
<rect x="0" y="924" width="1687" height="1" fill="#000" />
</g>
<g font-family="Liberation Sans, sans-serif">
<rect x="1687" y="26" width="2" height="1" fill="#000" shape-rendering="crispEdges"/>
<text x="1691.6" y="30" font-size="9.5" fill="#000" text-anchor="start" letter-spacing="-0.15" font-weight="normal" >30615.0</text>
<rect x="1687" y="59" width="2" height="1" fill="#000" shape-rendering="crispEdges"/>
<text x="1691.6" y="63" font-size="9.5" fill="#000" text-anchor="start" letter-spacing="-0.15" font-weight="normal" >30224.0</text>
<rect x="1687" y="125" width="2" height="1" fill="#000" shape-rendering="crispEdges"/>
<text x="1691.6" y="129" font-size="9.5" fill="#000" text-anchor="start" letter-spacing="-0.15" font-weight="normal" >29442.0</text>
<rect x="1687" y="158" width="2" height="1" fill="#000" shape-rendering="crispEdges"/>
<text x="1691.6" y="162" font-size="9.5" fill="#000" text-anchor="start" letter-spacing="-0.15" font-weight="normal" >29051.0</text>
<rect x="1687" y="191" width="2" height="1" fill="#000" shape-rendering="crispEdges"/>
<text x="1691.6" y="195" font-size="9.5" fill="#000" text-anchor="start" letter-spacing="-0.15" font-weight="normal" >28660.0</text>
<rect x="1687" y="224" width="2" height="1" fill="#000" shape-rendering="crispEdges"/>
<text x="1691.6" y="228" font-size="9.5" fill="#000" text-anchor="start" letter-spacing="-0.15" font-weight="normal" >28269.0</text>
<rect x="1687" y="257" width="2" height="1" fill="#000" shape-rendering="crispEdges"/>
<text x="1691.6" y="261" font-size="9.5" fill="#000" text-anchor="start" letter-spacing="-0.15" font-weight="normal" >27878.0</text>
<rect x="1687" y="290" width="2" height="1" fill="#000" shape-rendering="crispEdges"/>
<text x="1691.6" y="294" font-size="9.5" fill="#000" text-anchor="start" letter-spacing="-0.15" font-weight="normal" >27487.0</text>
<rect x="1687" y="323" width="2" height="1" fill="#000" shape-rendering="crispEdges"/>
<text x="1691.6" y="327" font-size="9.5" fill="#000" text-anchor="start" letter-spacing="-0.15" font-weight="normal" >27096.0</text>
<rect x="1687" y="356" width="2" height="1" fill="#000" shape-rendering="crispEdges"/>
<text x="1691.6" y="360" font-size="9.5" fill="#000" text-anchor="start" letter-spacing="-0.15" font-weight="normal" >26705.0</text>
<rect x="1687" y="389" width="2" height="1" fill="#000" shape-rendering="crispEdges"/>
<text x="1691.6" y="393" font-size="9.5" fill="#000" text-anchor="start" letter-spacing="-0.15" font-weight="normal" >26314.0</text>
<rect x="1687" y="422" width="2" height="1" fill="#000" shape-rendering="crispEdges"/>
<text x="1691.6" y="426" font-size="9.5" fill="#000" text-anchor="start" letter-spacing="-0.15" font-weight="normal" >25923.0</text>
<rect x="1687" y="455" width="2" height="1" fill="#000" shape-rendering="crispEdges"/>
<text x="1691.6" y="459" font-size="9.5" fill="#000" text-anchor="start" letter-spacing="-0.15" font-weight="normal" >25532.0</text>
<rect x="1687" y="488" width="2" height="1" fill="#000" shape-rendering="crispEdges"/>
<text x="1691.6" y="492" font-size="9.5" fill="#000" text-anchor="start" letter-spacing="-0.15" font-weight="normal" >25141.0</text>
<rect x="1687" y="521" width="2" height="1" fill="#000" shape-rendering="crispEdges"/>
<text x="1691.6" y="525" font-size="9.5" fill="#000" text-anchor="start" letter-spacing="-0.15" font-weight="normal" >24761.0</text>
<rect x="1687" y="554" width="2" height="1" fill="#000" shape-rendering="crispEdges"/>
<text x="1691.6" y="558" font-size="9.5" fill="#000" text-anchor="start" letter-spacing="-0.15" font-weight="normal" >24370.0</text>
<rect x="1687" y="587" width="2" height="1" fill="#000" shape-rendering="crispEdges"/>
<text x="1691.6" y="591" font-size="9.5" fill="#000" text-anchor="start" letter-spacing="-0.15" font-weight="normal" >23979.5</text>
<rect x="1688" y="30" width="41" height="11" fill="#ff0000" shape-rendering="crispEdges"/>
<text x="1691.6" y="39" font-size="9.5" fill="#fff" text-anchor="start" letter-spacing="-0.15" font-weight="normal" >30492.5</text>
<rect x="1688" y="43" width="41" height="11" fill="#ff0000" shape-rendering="crispEdges"/>
<text x="1691.6" y="52" font-size="9.5" fill="#fff" text-anchor="start" letter-spacing="-0.15" font-weight="normal" >30346.5</text>
<rect x="1688" y="67" width="41" height="11" fill="#000" shape-rendering="crispEdges"/>
<text x="1691.6" y="76" font-size="9.5" fill="#fff" text-anchor="start" letter-spacing="-0.15" font-weight="normal" >30069.0</text>
<rect x="1688" y="70" width="41" height="11" fill="#32cd32" shape-rendering="crispEdges"/>
<text x="1691.6" y="79" font-size="9.5" fill="#fff" text-anchor="start" letter-spacing="-0.15" font-weight="normal" >30018.4</text>
<rect x="1688" y="85" width="41" height="11" fill="#0000ff" shape-rendering="crispEdges"/>
<text x="1691.6" y="94" font-size="9.5" fill="#fff" text-anchor="start" letter-spacing="-0.15" font-weight="normal" >29851.5</text>
<rect x="1688" y="98" width="41" height="11" fill="#0000ff" shape-rendering="crispEdges"/>
<text x="1691.6" y="107" font-size="9.5" fill="#fff" text-anchor="start" letter-spacing="-0.15" font-weight="normal" >29695.7</text>
<text x="1689.5" y="603" font-size="9.5" fill="#000" text-anchor="start" letter-spacing="-0.15" font-weight="normal" >929.45</text>
<rect x="1687" y="698" width="2" height="1" fill="#000" shape-rendering="crispEdges"/>
<text x="1691.6" y="702" font-size="9.5" fill="#000" text-anchor="start" letter-spacing="-0.15" font-weight="normal" >0.00</text>
<text x="1689.5" y="745" font-size="9.5" fill="#000" text-anchor="start" letter-spacing="-0.15" font-weight="normal" >-436.65</text>
<text x="1688.8" y="761" font-size="9.5" fill="#000" text-anchor="start" letter-spacing="-0.15" font-weight="normal" >100</text>
<text x="1688.8" y="790" font-size="9.5" fill="#000" text-anchor="start" letter-spacing="-0.15" font-weight="normal" >80</text>
<text x="1688.8" y="841" font-size="9.5" fill="#000" text-anchor="start" letter-spacing="-0.15" font-weight="normal" >50</text>
<text x="1688.8" y="902" font-size="9.5" fill="#000" text-anchor="start" letter-spacing="-0.15" font-weight="normal" >15</text>
<text x="1688.8" y="921" font-size="9.5" fill="#000" text-anchor="start" letter-spacing="-0.15" font-weight="normal" >0</text>
<polygon points="0,34.5 6.5,34.5 3.2,30" fill="#000"/>
<text x="12" y="35" font-size="9.5" fill="#000" text-anchor="start" letter-spacing="-0.15" font-weight="normal" textLength="48.5" lengthAdjust="spacingAndGlyphs">DJ30-,Daily</text>
<text x="66" y="35" font-size="9.5" fill="#000" text-anchor="start" letter-spacing="-0.15" font-weight="normal" textLength="141" lengthAdjust="spacingAndGlyphs">30110.0 30226.0 29990.0 30069.0</text>
<text x="0.6" y="605" font-size="9.5" fill="#000" text-anchor="start" letter-spacing="-0.08" font-weight="normal" >MACD(12,26,9) 266.17 334.12</text>
<text x="0.5" y="763" font-size="9.5" fill="#000" text-anchor="start" letter-spacing="-0.2" font-weight="normal" >RSI(14) 58.3142</text>
<text x="-4.5" y="937" font-size="9.5" fill="#000" text-anchor="start" letter-spacing="-0.18" font-weight="normal" >20 May 2020</text>
<rect x="60" y="925" width="1" height="4" fill="#000" shape-rendering="crispEdges"/>
<text x="59.5" y="937" font-size="9.5" fill="#000" text-anchor="start" letter-spacing="-0.18" font-weight="normal" >29 May 2020</text>
<rect x="124" y="925" width="1" height="4" fill="#000" shape-rendering="crispEdges"/>
<text x="123.5" y="937" font-size="9.5" fill="#000" text-anchor="start" letter-spacing="-0.18" font-weight="normal" >8 Jun 2020</text>
<rect x="188" y="925" width="1" height="4" fill="#000" shape-rendering="crispEdges"/>
<text x="187.5" y="937" font-size="9.5" fill="#000" text-anchor="start" letter-spacing="-0.18" font-weight="normal" >17 Jun 2020</text>
<rect x="252" y="925" width="1" height="4" fill="#000" shape-rendering="crispEdges"/>
<text x="251.5" y="937" font-size="9.5" fill="#000" text-anchor="start" letter-spacing="-0.18" font-weight="normal" >26 Jun 2020</text>
<rect x="316" y="925" width="1" height="4" fill="#000" shape-rendering="crispEdges"/>
<text x="315.5" y="937" font-size="9.5" fill="#000" text-anchor="start" letter-spacing="-0.18" font-weight="normal" >6 Jul 2020</text>
<rect x="380" y="925" width="1" height="4" fill="#000" shape-rendering="crispEdges"/>
<text x="379.5" y="937" font-size="9.5" fill="#000" text-anchor="start" letter-spacing="-0.18" font-weight="normal" >15 Jul 2020</text>
<rect x="444" y="925" width="1" height="4" fill="#000" shape-rendering="crispEdges"/>
<text x="443.5" y="937" font-size="9.5" fill="#000" text-anchor="start" letter-spacing="-0.18" font-weight="normal" >24 Jul 2020</text>
<rect x="508" y="925" width="1" height="4" fill="#000" shape-rendering="crispEdges"/>
<text x="507.5" y="937" font-size="9.5" fill="#000" text-anchor="start" letter-spacing="-0.18" font-weight="normal" >3 Aug 2020</text>
<rect x="572" y="925" width="1" height="4" fill="#000" shape-rendering="crispEdges"/>
<text x="571.5" y="937" font-size="9.5" fill="#000" text-anchor="start" letter-spacing="-0.18" font-weight="normal" >12 Aug 2020</text>
<rect x="636" y="925" width="1" height="4" fill="#000" shape-rendering="crispEdges"/>
<text x="635.5" y="937" font-size="9.5" fill="#000" text-anchor="start" letter-spacing="-0.18" font-weight="normal" >21 Aug 2020</text>
<rect x="700" y="925" width="1" height="4" fill="#000" shape-rendering="crispEdges"/>
<text x="699.5" y="937" font-size="9.5" fill="#000" text-anchor="start" letter-spacing="-0.18" font-weight="normal" >31 Aug 2020</text>
<rect x="764" y="925" width="1" height="4" fill="#000" shape-rendering="crispEdges"/>
<text x="763.5" y="937" font-size="9.5" fill="#000" text-anchor="start" letter-spacing="-0.18" font-weight="normal" >9 Sep 2020</text>
<rect x="828" y="925" width="1" height="4" fill="#000" shape-rendering="crispEdges"/>
<text x="827.5" y="937" font-size="9.5" fill="#000" text-anchor="start" letter-spacing="-0.18" font-weight="normal" >18 Sep 2020</text>
<rect x="892" y="925" width="1" height="4" fill="#000" shape-rendering="crispEdges"/>
<text x="891.5" y="937" font-size="9.5" fill="#000" text-anchor="start" letter-spacing="-0.18" font-weight="normal" >28 Sep 2020</text>
<rect x="956" y="925" width="1" height="4" fill="#000" shape-rendering="crispEdges"/>
<text x="955.5" y="937" font-size="9.5" fill="#000" text-anchor="start" letter-spacing="-0.18" font-weight="normal" >7 Oct 2020</text>
<rect x="1020" y="925" width="1" height="4" fill="#000" shape-rendering="crispEdges"/>
<text x="1019.5" y="937" font-size="9.5" fill="#000" text-anchor="start" letter-spacing="-0.18" font-weight="normal" >16 Oct 2020</text>
<rect x="1084" y="925" width="1" height="4" fill="#000" shape-rendering="crispEdges"/>
<text x="1083.5" y="937" font-size="9.5" fill="#000" text-anchor="start" letter-spacing="-0.18" font-weight="normal" >26 Oct 2020</text>
<rect x="1148" y="925" width="1" height="4" fill="#000" shape-rendering="crispEdges"/>
<text x="1147.5" y="937" font-size="9.5" fill="#000" text-anchor="start" letter-spacing="-0.18" font-weight="normal" >4 Nov 2020</text>
<rect x="1212" y="925" width="1" height="4" fill="#000" shape-rendering="crispEdges"/>
<text x="1211.5" y="937" font-size="9.5" fill="#000" text-anchor="start" letter-spacing="-0.18" font-weight="normal" >13 Nov 2020</text>
<rect x="1276" y="925" width="1" height="4" fill="#000" shape-rendering="crispEdges"/>
<text x="1275.5" y="937" font-size="9.5" fill="#000" text-anchor="start" letter-spacing="-0.18" font-weight="normal" >23 Nov 2020</text>
<rect x="1340" y="925" width="1" height="4" fill="#000" shape-rendering="crispEdges"/>
<text x="1339.5" y="937" font-size="9.5" fill="#000" text-anchor="start" letter-spacing="-0.18" font-weight="normal" >2 Dec 2020</text>
<rect x="1404" y="925" width="1" height="4" fill="#000" shape-rendering="crispEdges"/>
<text x="1403.5" y="937" font-size="9.5" fill="#000" text-anchor="start" letter-spacing="-0.18" font-weight="normal" >11 Dec 2020</text>
</g>
<text x="1502.5" y="72" font-size="21" fill="#0cf00c" textLength="107" lengthAdjust="spacing" style="font-family:'Liberation Serif','Noto Serif CJK SC',serif">多空转折点</text>
<g shape-rendering="crispEdges">
<rect x="0" y="43" width="220" height="64" fill="#fff"/>
<rect x="0" y="43" width="50" height="24" fill="url(#gbtn)"/>
<rect x="167" y="43" width="51" height="24" fill="url(#gbtn)"/>
<rect x="0" y="67" width="108" height="40" fill="url(#gprice)"/>
<rect x="110" y="67" width="108" height="40" fill="url(#gprice)"/>
<rect x="3" y="66" width="44" height="1" fill="#f08080"/>
<rect x="170" y="66" width="44" height="1" fill="#f08080"/>
<rect x="53.5" y="43.5" width="110" height="21" fill="#fff" stroke="#a0a4b4" stroke-width="1"/>
<rect x="55" y="45" width="19" height="18" fill="url(#gspin)" stroke="#b8b8c0" stroke-width="1"/>
<rect x="143" y="45" width="19" height="18" fill="url(#gspin)" stroke="#b8b8c0" stroke-width="1"/>
</g>
<path d="M61.2,52 h5.6 l-2.8,3 z" fill="#4458c0"/>
<path d="M149.7,55 h5.6 l-2.8,-3 z" fill="#4458c0"/>
<g font-family="Liberation Sans, sans-serif">
<text x="138.5" y="58" font-size="13" text-anchor="end" fill="#000" letter-spacing="-0.3">1.00</text>
<text x="11.7" y="58.8" font-size="12" fill="#fff" textLength="25" lengthAdjust="spacingAndGlyphs">SELL</text>
<text x="179.8" y="58.8" font-size="12" fill="#fff" textLength="22.6" lengthAdjust="spacingAndGlyphs">BUY</text>
<text x="16" y="97.7" font-size="11" font-weight="bold" fill="#fff" textLength="33" lengthAdjust="spacingAndGlyphs">30067</text>
<text x="125.8" y="97.7" font-size="11" font-weight="bold" fill="#fff" textLength="33.5" lengthAdjust="spacingAndGlyphs">30078</text>
<text x="60.3" y="97.7" font-size="32.5" fill="#fff" stroke="url(#gprice)" stroke-width="0.5">5</text>
<rect x="55.2" y="94.9" width="3.1" height="2.8" fill="#fff"/>
<text x="171" y="97.7" font-size="32.5" fill="#fff" stroke="url(#gprice)" stroke-width="0.5">5</text>
<rect x="165.4" y="94.9" width="3.1" height="2.8" fill="#fff"/>
</g>
<rect x="0" y="0" width="1733" height="21" fill="#f0f0f0"/>
<g shape-rendering="crispEdges">
<rect x="0" y="18" width="1733" height="1" fill="#d9d9d9"/>
<rect x="0" y="19" width="1733" height="1" fill="#a0a0a0"/>
<rect x="0" y="20" width="1733" height="1" fill="#6d6d6d"/>
<rect x="1732" y="21" width="1" height="920" fill="#f0f0f0"/>
<rect x="47" y="0" width="1" height="17" fill="#a8a8a8"/>
<rect x="284" y="0" width="1" height="17" fill="#a8a8a8"/>
<rect x="321" y="0" width="1" height="17" fill="#a8a8a8"/>
<rect x="378" y="0" width="1" height="17" fill="#a8a8a8"/>
<rect x="468" y="0" width="1" height="17" fill="#a8a8a8"/>
<rect x="473" y="0" width="1" height="17" fill="#a8a8a8"/>
<rect x="501" y="0" width="1" height="17" fill="#a8a8a8"/>
<rect x="530" y="0" width="1" height="17" fill="#a8a8a8"/>
<rect x="651" y="0" width="1" height="17" fill="#a8a8a8"/>
<rect x="661" y="0" width="1" height="17" fill="#a8a8a8"/>
<rect x="718" y="0" width="1" height="17" fill="#a8a8a8"/>
<rect x="957" y="0" width="1" height="17" fill="#a8a8a8"/>
<rect x="1135" y="0" width="1" height="17" fill="#a8a8a8"/>
<rect x="1218" y="0" width="1" height="17" fill="#a8a8a8"/>
<rect x="287" y="1" width="3" height="1" fill="#b0b0b0"/>
<rect x="287" y="3" width="3" height="1" fill="#b0b0b0"/>
<rect x="287" y="5" width="3" height="1" fill="#b0b0b0"/>
<rect x="287" y="7" width="3" height="1" fill="#b0b0b0"/>
<rect x="287" y="9" width="3" height="1" fill="#b0b0b0"/>
<rect x="287" y="11" width="3" height="1" fill="#b0b0b0"/>
<rect x="287" y="13" width="3" height="1" fill="#b0b0b0"/>
<rect x="287" y="15" width="3" height="1" fill="#b0b0b0"/>
<rect x="655" y="1" width="3" height="1" fill="#b0b0b0"/>
<rect x="655" y="3" width="3" height="1" fill="#b0b0b0"/>
<rect x="655" y="5" width="3" height="1" fill="#b0b0b0"/>
<rect x="655" y="7" width="3" height="1" fill="#b0b0b0"/>
<rect x="655" y="9" width="3" height="1" fill="#b0b0b0"/>
<rect x="655" y="11" width="3" height="1" fill="#b0b0b0"/>
<rect x="655" y="13" width="3" height="1" fill="#b0b0b0"/>
<rect x="655" y="15" width="3" height="1" fill="#b0b0b0"/>
<rect x="961" y="1" width="3" height="1" fill="#b0b0b0"/>
<rect x="961" y="3" width="3" height="1" fill="#b0b0b0"/>
<rect x="961" y="5" width="3" height="1" fill="#b0b0b0"/>
<rect x="961" y="7" width="3" height="1" fill="#b0b0b0"/>
<rect x="961" y="9" width="3" height="1" fill="#b0b0b0"/>
<rect x="961" y="11" width="3" height="1" fill="#b0b0b0"/>
<rect x="961" y="13" width="3" height="1" fill="#b0b0b0"/>
<rect x="961" y="15" width="3" height="1" fill="#b0b0b0"/>
<rect x="322" y="0" width="24" height="17" fill="#f8f8f8"/>
<rect x="474" y="0" width="24" height="17" fill="#f8f8f8"/>
<rect x="502" y="0" width="24" height="17" fill="#f8f8f8"/>
<rect x="662" y="0" width="24" height="17" fill="#f8f8f8"/>
<rect x="1137" y="0" width="24" height="17" fill="#f8f8f8"/>
</g>
<rect x="-2" y="-1" width="11.2" height="14" rx="1" fill="#fff" stroke="#2e70c0" stroke-width="1.5"/>
<rect x="0" y="1.5" width="8" height="1" fill="#c4d6f4"/>
<rect x="0" y="3.8" width="8" height="1" fill="#c4d6f4"/>
<rect x="0" y="6.1" width="8" height="1" fill="#c4d6f4"/>
<rect x="22.5" y="-1" width="12" height="13" fill="#fcfcfc" stroke="#b0a898" stroke-width="1"/>
<path d="M25.5,1.5 v4.5 M24.5,5 h2 M32.5,1 v3 M31.5,2 h2" stroke="#606060" stroke-width="1" fill="none"/>
<line x1="34.5" y1="12" x2="38.5" y2="15.8" stroke="#c8a020" stroke-width="3"/>
<circle cx="30.5" cy="8.2" r="5.2" fill="#dcecf8" fill-opacity="0.9" stroke="#6aa0e4" stroke-width="1.1" stroke-dasharray="2.2 0.8"/>
<rect x="29" y="5.5" width="2.6" height="4.2" fill="#9aaabc"/>
<path d="M56.8,-1 h8 l3,3 v10 h-11 z" fill="#fbfbfb" stroke="#787878" stroke-width="1"/>
<path d="M58.8,3.5 h4 M58.8,6 h6 M58.8,8.5 h4" stroke="#a0a0a0" stroke-width="1" fill="none"/>
<path d="M65.3,5.5 h3.6 v3.6 h3.6 v3.6 h-3.6 v3.8 h-3.6 v-3.8 h-3.6 v-3.6 h3.6 z" fill="#18c818" stroke="#0a8a0a" stroke-width="0.8"/>
<text x="75.6" y="10.2" font-size="12" fill="#000" textLength="35.8" lengthAdjust="spacing" style="font-family:'Liberation Sans','Noto Sans CJK SC',sans-serif">新订单</text>
<path d="M128.5,-1 L140,8.3 L132.3,15 L124,9.5 Z" fill="url(#ggold)" stroke="#a8781a" stroke-width="0.8"/>
<path d="M132.3,15 L140,8.3" stroke="#8a5a10" stroke-width="1.6" fill="none"/>
<path d="M125,10.2 L132,14.6" stroke="#fff0b0" stroke-width="1" fill="none"/>
<rect x="154.5" y="-1" width="10.5" height="9" fill="#58b0f0" stroke="#1e78d8" stroke-width="0.8"/>
<rect x="154.5" y="-1" width="3" height="9" fill="#1e8fff"/>
<rect x="159.5" y="3" width="4.5" height="1.6" fill="#fff"/>
<path d="M155.5,14.8 a3,3 0 0 1 -0.5,-5.9 a3.2,3.2 0 0 1 5.6,-1.2 a3,3 0 0 1 4.6,1.4 a2.9,2.9 0 0 1 0,5.7 z" fill="url(#gcloud)" stroke="#4a68a8" stroke-width="1"/>
<path d="M188,7 L188,15 A8,8 0 0 0 196,7 A8,8 0 0 0 188,-1 Z" fill="#78b878" fill-opacity="0.35"/>
<path d="M188,-1 a8,8 0 0 0 0,16" fill="none" stroke="#9ab4e6" stroke-width="1.2"/>
<path d="M188,1.6 a5.4,5.4 0 0 0 0,10.8" fill="none" stroke="#6a8cdc" stroke-width="1.2"/>
<path d="M188,4 a3,3 0 0 0 0,6" fill="none" stroke="#88a4e4" stroke-width="1"/>
<path d="M188,-1 a8,8 0 0 1 0,16" fill="none" stroke="#78b078" stroke-width="1.3"/>
<path d="M188,1.6 a5.4,5.4 0 0 1 0,10.8" fill="none" stroke="#a0c8a0" stroke-width="1.1"/>
<circle cx="187.8" cy="6.6" r="1.9" fill="#2050c8"/>
<path d="M188.2,7 v8.3" fill="none" stroke="#28a828" stroke-width="1.3"/>
<path d="M207.5,6.5 L223,6.5 L216.8,15.5 L213.4,15.5 Z" fill="url(#gyel)" stroke="#d0a020" stroke-width="0.6"/>
<ellipse cx="215.2" cy="3.9" rx="7.6" ry="2.6" fill="#4aa8e0" stroke="#3a88c8" stroke-width="0.6"/>
<path d="M211.3,3.2 Q213,0.5 213.3,-2 L217.2,-2 Q217.6,0.5 219.4,3.2 Z" fill="#5ab4e8"/>
<circle cx="219.4" cy="10.8" r="4.1" fill="#e02010"/>
<rect x="218" y="9.4" width="2.8" height="2.8" fill="#fff"/>
<text x="229.8" y="10.2" font-size="11.5" fill="#000" textLength="45" lengthAdjust="spacing" style="font-family:'Liberation Sans','Noto Sans CJK SC',sans-serif">自动交易</text>
<path d="M301.5,1.5 v13 M298.5,12.5 h13.5" stroke="#555" stroke-width="1" fill="none"/>
<path d="M299.5,3.5 l2,-2.5 l2,2.5 z M310,10.8 l2.8,1.7 l-2.8,1.7 z" fill="#505050"/>
<path d="M306.5,9.5 h2 v-7 h2" stroke="#209020" stroke-width="1.5" fill="none"/>
<path d="M329.5,1.5 v13 M326.5,12.5 h13.5" stroke="#555" stroke-width="1" fill="none"/>
<path d="M327.5,3.5 l2,-2.5 l2,2.5 z M338,10.8 l2.8,1.7 l-2.8,1.7 z" fill="#505050"/>
<rect x="333.5" y="1" width="4" height="8" fill="#30d030" stroke="#108010" stroke-width="1"/><path d="M335.5,-1 v2 M335.5,9 v2" stroke="#108010" stroke-width="1"/>
<path d="M357.5,1.5 v13 M354.5,12.5 h13.5" stroke="#555" stroke-width="1" fill="none"/>
<path d="M355.5,3.5 l2,-2.5 l2,2.5 z M366,10.8 l2.8,1.7 l-2.8,1.7 z" fill="#505050"/>
<path d="M356,10 q5,-9 8,-5 t5,3" stroke="#209020" stroke-width="1.3" fill="none"/>
<line x1="397" y1="8.5" x2="402" y2="13.5" stroke="#c8a030" stroke-width="2.6"/>
<circle cx="393" cy="4.6" r="5.3" fill="#d4e6f8" stroke="#4a88d8" stroke-width="1.3"/>
<path d="M390,4.6 h6" stroke="#2a68b8" stroke-width="1.6"/>
<path d="M393,1.6 v6" stroke="#2a68b8" stroke-width="1.6"/>
<line x1="425" y1="8.5" x2="430" y2="13.5" stroke="#c8a030" stroke-width="2.6"/>
<circle cx="421" cy="4.6" r="5.3" fill="#d4e6f8" stroke="#4a88d8" stroke-width="1.3"/>
<path d="M418,4.6 h6" stroke="#2a68b8" stroke-width="1.6"/>
<rect x="443" y="-1" width="8" height="7.8" fill="#3aa010"/><rect x="444.2" y="2" width="5.6" height="3.7" fill="#fff"/><rect x="445.2" y="3" width="3.6" height="1" fill="#a8d890"/>
<rect x="451" y="-1" width="8" height="7.8" fill="#2050d0"/><rect x="452.2" y="2" width="5.6" height="3.7" fill="#fff"/><rect x="453.2" y="3" width="3.6" height="1" fill="#a0b8f0"/>
<rect x="443" y="7" width="8" height="7.8" fill="#2050d0"/><rect x="444.2" y="10" width="5.6" height="3.7" fill="#fff"/><rect x="445.2" y="11" width="3.6" height="1" fill="#a0b8f0"/>
<rect x="451" y="7" width="8" height="7.8" fill="#3aa010"/><rect x="452.2" y="10" width="5.6" height="3.7" fill="#fff"/><rect x="453.2" y="11" width="3.6" height="1" fill="#a8d890"/>
<path d="M481.5,1.5 v13 M478.5,12.5 h13.5" stroke="#555" stroke-width="1" fill="none"/>
<path d="M479.5,3.5 l2,-2.5 l2,2.5 z M490,10.8 l2.8,1.7 l-2.8,1.7 z" fill="#505050"/>
<path d="M486,3.5 l4.2,3 l-4.2,3 z" fill="#30b030" stroke="#108010" stroke-width="0.6"/>
<path d="M509.5,1.5 v13 M506.5,12.5 h13.5" stroke="#555" stroke-width="1" fill="none"/>
<path d="M507.5,3.5 l2,-2.5 l2,2.5 z M518,10.8 l2.8,1.7 l-2.8,1.7 z" fill="#505050"/>
<path d="M515.5,1 v10" stroke="#2060c0" stroke-width="1.2"/><path d="M521,6.5 h-4 M519,4.5 l-2.5,2 l2.5,2" stroke="#e05010" stroke-width="1.2" fill="none"/>
<path d="M540.2,-1 h8 l3,3 v10 h-11 z" fill="#fbfbfb" stroke="#787878" stroke-width="1"/>
<path d="M542.2,3.5 h4 M542.2,6 h6 M542.2,8.5 h4" stroke="#a0a0a0" stroke-width="1" fill="none"/>
<path d="M548.7,5.5 h3.6 v3.6 h3.6 v3.6 h-3.6 v3.8 h-3.6 v-3.8 h-3.6 v-3.6 h3.6 z" fill="#18c818" stroke="#0a8a0a" stroke-width="0.8"/>
<path d="M562,6 h5.4 l-2.7,3.2 z" fill="#000"/>
<circle cx="585.5" cy="6.3" r="7.4" fill="#f4f8ff" stroke="#2a6ad0" stroke-width="2.6"/>
<path d="M585.5,2.5 v4.2 h3" stroke="#404040" stroke-width="1" fill="none"/>
<path d="M601,6 h5.4 l-2.7,3.2 z" fill="#000"/>
<rect x="617.5" y="-1" width="15.5" height="15" fill="#fff" stroke="#3a78c8" stroke-width="1.2"/>
<rect x="618" y="-1" width="14.5" height="2.5" fill="#3a78c8"/>
<path d="M619,8.5 h13" stroke="#3a78c8" stroke-width="0.8"/>
<path d="M620,6 l3,-1 l2,0.5 l3,-1.5 l3,0" stroke="#c03010" stroke-width="1.1" fill="none"/>
<path d="M620,12 l3,-1 l2,0.8 l3,-1.8 l3,1.5" stroke="#209020" stroke-width="1.1" fill="none"/>
<path d="M640,6 h5.4 l-2.7,3.2 z" fill="#000"/>
<path d="M669,-1 L669,11.5 L672,8.8 L674.4,14 L676.2,13.2 L673.8,8 L677.5,8 Z" fill="#404040"/>
<path d="M701.5,0 v15 M694,7.5 h15" stroke="#404040" stroke-width="1"/>
<path d="M735.5,1 v13" stroke="#505050" stroke-width="1.2"/>
<path d="M758,7.5 h12" stroke="#505050" stroke-width="1.2"/>
<path d="M786,14 L798,2" stroke="#505050" stroke-width="1.2"/>
<path d="M812,11 L824,1 M814,14 L826,4 M815,8 l2,4 M818,5.5 l2,4 M821,3 l2,4" stroke="#505050" stroke-width="1" fill="none"/>
<text x="822.5" y="16" font-size="6.5" font-weight="bold" fill="#404040" font-family="Liberation Sans, sans-serif">E</text>
<path d="M841,0.5 h13" stroke="#505050" stroke-width="1" stroke-dasharray="1 1"/>
<path d="M841,3.5 h13" stroke="#505050" stroke-width="1" stroke-dasharray="1 1"/>
<path d="M841,7.5 h13" stroke="#505050" stroke-width="1" stroke-dasharray="1 1"/>
<path d="M841,11.5 h13" stroke="#505050" stroke-width="1" stroke-dasharray="1 1"/>
<text x="850.5" y="16" font-size="6.5" font-weight="bold" fill="#404040" font-family="Liberation Sans, sans-serif">F</text>
<text x="871.3" y="11.5" font-size="12" font-weight="bold" fill="#686868" font-family="Liberation Sans, sans-serif">A</text>
<rect x="898.5" y="1.5" width="11" height="12" fill="none" stroke="#606060" stroke-width="1" stroke-dasharray="1 1"/>
<text x="900.4" y="11.5" font-size="11" font-weight="bold" fill="#686868" font-family="Liberation Sans, sans-serif">T</text>
<path d="M929,1 l3,3 l-3,3 l-3,-3 z M936,8 l3,3 l-3,3 l-3,-3 z" fill="#404040"/><path d="M928,8 l2.5,2.5 l5,-6" stroke="#404040" stroke-width="1.5" fill="none"/>
<path d="M946,6 h5.4 l-2.7,3.2 z" fill="#000"/>
<text x="972.5" y="11" font-size="10" fill="#4a4a4a" letter-spacing="-0.2" font-family="Liberation Sans, sans-serif">M1</text>
<text x="1000.5" y="11" font-size="10" fill="#4a4a4a" letter-spacing="-0.2" font-family="Liberation Sans, sans-serif">M5</text>
<text x="1026" y="11" font-size="10" fill="#4a4a4a" letter-spacing="-0.2" font-family="Liberation Sans, sans-serif">M15</text>
<text x="1054" y="11" font-size="10" fill="#4a4a4a" letter-spacing="-0.2" font-family="Liberation Sans, sans-serif">M30</text>
<text x="1085" y="11" font-size="10" fill="#4a4a4a" letter-spacing="-0.2" font-family="Liberation Sans, sans-serif">H1</text>
<text x="1112.5" y="11" font-size="10" fill="#4a4a4a" letter-spacing="-0.2" font-family="Liberation Sans, sans-serif">H4</text>
<text x="1142" y="11" font-size="10" fill="#4a4a4a" letter-spacing="-0.2" font-family="Liberation Sans, sans-serif">D1</text>
<text x="1169" y="11" font-size="10" fill="#4a4a4a" letter-spacing="-0.2" font-family="Liberation Sans, sans-serif">W1</text>
<text x="1195.5" y="11" font-size="10" fill="#4a4a4a" letter-spacing="-0.2" font-family="Liberation Sans, sans-serif">MN</text>
<circle cx="1688.6" cy="4.4" r="4" fill="#f4f4fc" stroke="#2a58d0" stroke-width="1.3"/>
<line x1="1685.5" y1="7.6" x2="1681" y2="12" stroke="#2a58d0" stroke-width="2.2"/>
<path d="M1705,9 a5,5 0 0 1 5,-5 h4 a5,5 0 0 1 0,10 h-4.5 l-1.5,2 l-0.5,-2.5 a5,5 0 0 1 -2.5,-4.5z" fill="#dcdce4" stroke="#a8a8a8" stroke-width="0.8"/>
<circle cx="1719.4" cy="4.5" r="8.2" fill="#e03420"/>
<text x="1716.3" y="9" font-size="11" font-weight="bold" fill="#fff" font-family="Liberation Serif, serif">1</text>
</svg>
</body></html>
